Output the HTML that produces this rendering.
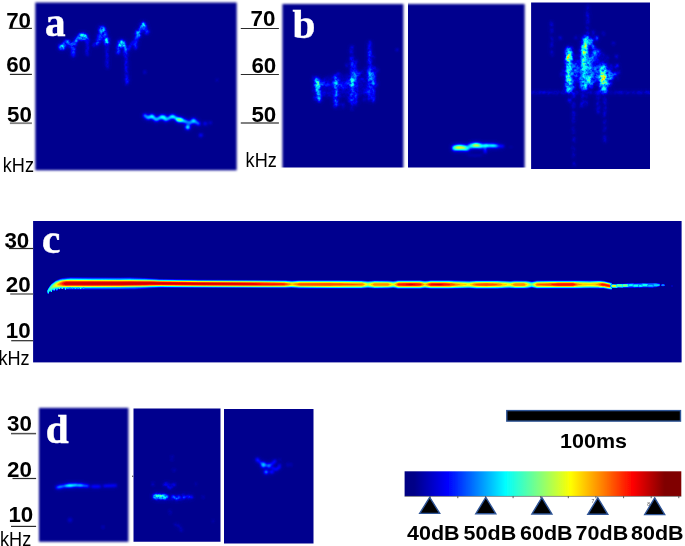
<!DOCTYPE html>
<html><head><meta charset="utf-8"><title>Spectrograms</title>
<style>
html,body{margin:0;padding:0;background:#fff;}
body{width:685px;height:546px;overflow:hidden;position:relative;}
svg{position:absolute;left:0;top:0;display:block;}
.ax{font-family:"Liberation Sans",sans-serif;font-weight:bold;font-size:22px;fill:#000;}
.kh{font-family:"Liberation Sans",sans-serif;font-weight:normal;font-size:19.5px;fill:#000;}
.lab{font-family:"Liberation Serif",serif;font-weight:bold;font-size:40px;fill:#fff;stroke:#fff;stroke-width:0.5px;}
.db{font-family:"Liberation Sans",sans-serif;font-weight:bold;font-size:20.3px;fill:#000;}
.ul{stroke:#2a2a2a;stroke-width:1.2;}
</style></head><body>
<svg width="685" height="546" viewBox="0 0 685 546">
<defs>

<filter id="jetc" x="-5%" y="-5%" width="110%" height="110%" color-interpolation-filters="sRGB">
<feGaussianBlur stdDeviation="0.65"/>
<feComponentTransfer>
<feFuncR type="table" tableValues="0 0 0 0 0.5 1 1 1 0.5"/>
<feFuncG type="table" tableValues="0 0 0.5 1 1 1 0.5 0 0"/>
<feFuncB type="table" tableValues="0.56 1 1 1 0.5 0 0 0 0"/>
</feComponentTransfer>
</filter>
<filter id="jetb" x="-5%" y="-5%" width="110%" height="110%" color-interpolation-filters="sRGB">
<feGaussianBlur in="SourceGraphic" stdDeviation="2.4" result="h"/>
<feGaussianBlur in="SourceGraphic" stdDeviation="0.8" result="c"/>
<feComposite in="c" in2="h" operator="arithmetic" k1="0" k2="0.85" k3="0.5" k4="0" result="cmb"/>
<feTurbulence type="fractalNoise" baseFrequency="0.33" numOctaves="2" seed="7" result="t"/>
<feColorMatrix in="t" type="matrix" values="1.6 0 0 0 -0.3  1.6 0 0 0 -0.3  1.6 0 0 0 -0.3  0 0 0 0 1" result="tg"/>
<feGaussianBlur in="tg" stdDeviation="0.5" result="tgb"/>
<feComposite in="cmb" in2="tgb" operator="arithmetic" k1="0.8" k2="0.42" k3="0" k4="0" result="cmn"/>
<feComponentTransfer in="cmn">
<feFuncR type="table" tableValues="0 0 0 0 0.5 1 1 1 0.5"/>
<feFuncG type="table" tableValues="0 0 0.5 1 1 1 0.5 0 0"/>
<feFuncB type="table" tableValues="0.56 1 1 1 0.5 0 0 0 0"/>
<feFuncA type="linear" slope="0" intercept="1"/>
</feComponentTransfer>
</filter>
<filter id="jets" x="-5%" y="-5%" width="110%" height="110%" color-interpolation-filters="sRGB">
<feGaussianBlur in="SourceGraphic" stdDeviation="2.4" result="h"/>
<feGaussianBlur in="SourceGraphic" stdDeviation="0.9" result="c"/>
<feComposite in="c" in2="h" operator="arithmetic" k1="0" k2="0.9" k3="0.45" k4="0" result="cmb"/>

<feComponentTransfer in="cmb">
<feFuncR type="table" tableValues="0 0 0 0 0.5 1 1 1 0.5"/>
<feFuncG type="table" tableValues="0 0 0.5 1 1 1 0.5 0 0"/>
<feFuncB type="table" tableValues="0.56 1 1 1 0.5 0 0 0 0"/>
<feFuncA type="linear" slope="0" intercept="1"/>
</feComponentTransfer>
</filter>
<filter id="soft" x="-5%" y="-5%" width="110%" height="110%"><feGaussianBlur stdDeviation="0.95"/></filter>
<filter id="softc" x="-5%" y="-5%" width="110%" height="110%"><feGaussianBlur stdDeviation="0.7"/></filter>
<filter id="soft2" x="-5%" y="-5%" width="110%" height="110%"><feGaussianBlur stdDeviation="0.6"/></filter>
<linearGradient id="cb" x1="0" y1="0" x2="1" y2="0">
<stop offset="0" stop-color="#000083"/>
<stop offset="0.035" stop-color="#000088"/>
<stop offset="0.155" stop-color="#0000ff"/>
<stop offset="0.26" stop-color="#0080ff"/>
<stop offset="0.365" stop-color="#00ffff"/>
<stop offset="0.485" stop-color="#80ff80"/>
<stop offset="0.60" stop-color="#ffff00"/>
<stop offset="0.715" stop-color="#ff8000"/>
<stop offset="0.824" stop-color="#ff0000"/>
<stop offset="0.94" stop-color="#800000"/>
<stop offset="1" stop-color="#800000"/>
</linearGradient>
<clipPath id="cp_a"><rect x="27.3" y="-5.5" width="217.4" height="183.8"/></clipPath>
<mask id="mk_a" maskUnits="userSpaceOnUse" x="19.3" y="-13.5" width="233.4" height="199.8"><rect x="35.3" y="2.5" width="201.4" height="167.8" fill="#fff" filter="url(#soft)"/></mask>
<clipPath id="cp_b1"><rect x="274.4" y="-4.0" width="137.0" height="171.5"/></clipPath>
<mask id="mk_b1" maskUnits="userSpaceOnUse" x="266.4" y="-12.0" width="153.0" height="195.5"><rect x="282.4" y="4.0" width="121.0" height="171.5" fill="#fff" filter="url(#soft)"/></mask>
<clipPath id="cp_b2"><rect x="408.0" y="-4.0" width="124.7" height="171.5"/></clipPath>
<mask id="mk_b2" maskUnits="userSpaceOnUse" x="392.0" y="-12.0" width="148.7" height="195.5"><rect x="400.0" y="4.0" width="124.7" height="171.5" fill="#fff" filter="url(#soft)"/></mask>
<clipPath id="cp_b3"><rect x="531.1" y="2.6" width="118.9" height="166.4"/></clipPath>
<clipPath id="cp_c"><rect x="33.1" y="213.0" width="656.5" height="157.4"/></clipPath>
<mask id="mk_c" maskUnits="userSpaceOnUse" x="17.1" y="205.0" width="680.5" height="173.4"><rect x="25.1" y="221.0" width="656.5" height="141.4" fill="#fff" filter="url(#softc)"/></mask>
<clipPath id="cp_d1"><rect x="31.0" y="399.9" width="105.4" height="149.9"/></clipPath>
<mask id="mk_d1" maskUnits="userSpaceOnUse" x="23.0" y="391.9" width="121.4" height="165.9"><rect x="39.0" y="407.9" width="89.4" height="133.9" fill="#fff" filter="url(#soft)"/></mask>
<clipPath id="cp_d2"><rect x="133.5" y="408.4" width="87.0" height="133.4"/></clipPath>
<clipPath id="cp_d3"><rect x="224.0" y="409.1" width="89.5" height="134.4"/></clipPath>
</defs>

<defs><clipPath id="sub_a"><rect x="0" y="0" width="300" height="100"/></clipPath><clipPath id="sub_a2"><rect x="0" y="100" width="300" height="90"/></clipPath></defs>
<g clip-path="url(#cp_a)"><g mask="url(#mk_a)"><g clip-path="url(#sub_a)"><g filter="url(#jetb)">
<rect x="25.299999999999997" y="-7.5" width="221.4" height="187.8" fill="#000"/>
<path d="M62.0 47.0 L66.0 42.0 L70.0 43.0 L73.3 50.0" fill="none" stroke="rgb(56,56,56)" stroke-width="3.2" stroke-linecap="round" stroke-linejoin="round"/>
<path d="M73.3 55.0 L73.3 46.0 L77.0 39.0 L82.0 35.5 L86.0 36.5 L87.3 40.0" fill="none" stroke="rgb(61,61,61)" stroke-width="3.2" stroke-linecap="round" stroke-linejoin="round"/>
<path d="M87.3 40.0 L87.3 55.0" fill="none" stroke="rgb(46,46,46)" stroke-width="1.6" stroke-linecap="round" stroke-linejoin="round"/>
<path d="M73.3 46.0 L73.3 57.0" fill="none" stroke="rgb(41,41,41)" stroke-width="1.6" stroke-linecap="round" stroke-linejoin="round"/>
<ellipse cx="62.0" cy="47.0" rx="2.8" ry="2.4" fill="rgb(102,102,102)"/>
<ellipse cx="82.5" cy="36.5" rx="3.8" ry="3.0" fill="rgb(102,102,102)"/>
<ellipse cx="67.0" cy="41.5" rx="2.0" ry="1.8" fill="rgb(64,64,64)"/>
<path d="M94.5 45.0 L98.0 43.0 L99.0 36.0 L102.0 28.5 L105.0 31.0 L106.5 43.0" fill="none" stroke="rgb(56,56,56)" stroke-width="2.6" stroke-linecap="round" stroke-linejoin="round"/>
<path d="M106.8 40.0 L107.4 68.0" fill="none" stroke="rgb(46,46,46)" stroke-width="1.5" stroke-linecap="round" stroke-linejoin="round"/>
<ellipse cx="102.0" cy="29.0" rx="3.0" ry="2.6" fill="rgb(87,87,87)"/>
<ellipse cx="106.5" cy="41.0" rx="2.4" ry="3.2" fill="rgb(92,92,92)"/>
<ellipse cx="101.0" cy="37.0" rx="2.4" ry="2.4" fill="rgb(51,51,51)"/>
<path d="M118.0 53.0 L119.0 46.0 L121.5 42.5 L125.0 46.0 L126.0 55.0" fill="none" stroke="rgb(61,61,61)" stroke-width="2.8" stroke-linecap="round" stroke-linejoin="round"/>
<path d="M126.0 50.0 L126.7 84.0" fill="none" stroke="rgb(51,51,51)" stroke-width="1.6" stroke-linecap="round" stroke-linejoin="round"/>
<ellipse cx="121.5" cy="43.5" rx="3.2" ry="3.2" fill="rgb(102,102,102)"/>
<ellipse cx="127.0" cy="80.0" rx="1.2" ry="3.0" fill="rgb(64,64,64)"/>
<path d="M128.0 50.0 L133.0 42.0" fill="none" stroke="rgb(46,46,46)" stroke-width="2" stroke-linecap="round" stroke-linejoin="round"/>
<path d="M135.4 48.0 L136.0 40.0 L139.0 32.0 L143.3 24.5 L145.0 28.0 L147.0 33.0" fill="none" stroke="rgb(56,56,56)" stroke-width="2.6" stroke-linecap="round" stroke-linejoin="round"/>
<ellipse cx="143.3" cy="25.0" rx="2.6" ry="2.6" fill="rgb(92,92,92)"/>
<ellipse cx="138.0" cy="34.0" rx="2.4" ry="3.4" fill="rgb(82,82,82)"/>
<ellipse cx="147.0" cy="32.0" rx="2.2" ry="1.8" fill="rgb(51,51,51)"/>
<ellipse cx="145.0" cy="72.0" rx="1.2" ry="1.5" fill="rgb(31,31,31)"/>
<ellipse cx="217.0" cy="80.0" rx="1.2" ry="1.2" fill="rgb(20,20,20)"/>
</g></g></g></g>
<g clip-path="url(#cp_a)"><g mask="url(#mk_a)"><g clip-path="url(#sub_a2)"><g filter="url(#jets)">
<rect x="25.299999999999997" y="-7.5" width="221.4" height="187.8" fill="#000"/>
<path d="M144.6 115.5 L148.0 118.0 L151.9 116.3 L156.3 119.9 L162.1 116.3 L165.8 119.9 L172.3 116.3 L179.6 119.9 L185.5 121.4 L190.0 123.0 L193.5 120.7 L198.6 123.6" fill="none" stroke="rgb(61,61,61)" stroke-width="3.2" stroke-linecap="round" stroke-linejoin="round"/>
<path d="M144.6 115.5 L148.0 118.0 L151.9 116.3 L156.3 119.9 L162.1 116.3 L165.8 119.9 L172.3 116.3 L179.6 119.9 L185.5 121.4" fill="none" stroke="rgb(87,87,87)" stroke-width="1.6" stroke-linecap="round" stroke-linejoin="round"/>
<ellipse cx="146.0" cy="116.3" rx="1.8" ry="1.8" fill="rgb(66,66,66)"/>
<ellipse cx="152.0" cy="116.3" rx="2.4" ry="1.8" fill="rgb(97,97,97)"/>
<ellipse cx="163.0" cy="117.0" rx="3.0" ry="1.8" fill="rgb(97,97,97)"/>
<ellipse cx="172.5" cy="116.5" rx="2.6" ry="1.8" fill="rgb(97,97,97)"/>
<ellipse cx="179.5" cy="119.8" rx="3.4" ry="2.0" fill="rgb(122,122,122)"/>
<ellipse cx="187.7" cy="127.2" rx="2.2" ry="2.2" fill="rgb(92,92,92)"/>
<ellipse cx="193.5" cy="120.7" rx="2.2" ry="2.2" fill="rgb(84,84,84)"/>
<ellipse cx="205.2" cy="123.6" rx="2.0" ry="1.6" fill="rgb(31,31,31)"/>
<ellipse cx="200.8" cy="135.3" rx="1.8" ry="1.8" fill="rgb(36,36,36)"/>
<ellipse cx="210.3" cy="122.8" rx="1.6" ry="1.4" fill="rgb(23,23,23)"/>
</g></g></g></g>
<g clip-path="url(#cp_b1)"><g mask="url(#mk_b1)"><g><g filter="url(#jetb)">
<rect x="272.4" y="-6.0" width="141.0" height="183.5" fill="#000"/>
<ellipse cx="345.0" cy="86.0" rx="30.0" ry="12.0" fill="rgb(9,9,9)"/>
<ellipse cx="355.1" cy="66.9" rx="0.9" ry="2.3" fill="rgb(49,49,49)"/>
<ellipse cx="356.3" cy="61.8" rx="0.9" ry="1.3" fill="rgb(55,55,55)"/>
<ellipse cx="373.4" cy="56.8" rx="0.9" ry="1.9" fill="rgb(38,38,38)"/>
<ellipse cx="355.5" cy="63.6" rx="0.9" ry="2.1" fill="rgb(35,35,35)"/>
<ellipse cx="351.6" cy="51.9" rx="0.9" ry="2.2" fill="rgb(35,35,35)"/>
<ellipse cx="369.4" cy="60.7" rx="0.9" ry="1.4" fill="rgb(33,33,33)"/>
<ellipse cx="374.5" cy="71.8" rx="0.9" ry="1.4" fill="rgb(42,42,42)"/>
<ellipse cx="352.1" cy="47.1" rx="0.9" ry="1.6" fill="rgb(55,55,55)"/>
<ellipse cx="351.3" cy="50.5" rx="0.9" ry="2.3" fill="rgb(49,49,49)"/>
<ellipse cx="369.2" cy="69.8" rx="0.9" ry="1.7" fill="rgb(46,46,46)"/>
<ellipse cx="346.0" cy="87.1" rx="1.1" ry="2.8" fill="rgb(44,44,44)"/>
<ellipse cx="338.8" cy="73.3" rx="1.3" ry="1.4" fill="rgb(35,35,35)"/>
<ellipse cx="367.8" cy="88.8" rx="1.1" ry="2.0" fill="rgb(28,28,28)"/>
<ellipse cx="339.9" cy="86.4" rx="1.0" ry="1.6" fill="rgb(42,42,42)"/>
<ellipse cx="356.2" cy="72.0" rx="1.0" ry="2.1" fill="rgb(32,32,32)"/>
<ellipse cx="317.9" cy="92.0" rx="1.0" ry="2.3" fill="rgb(21,21,21)"/>
<ellipse cx="334.3" cy="84.8" rx="1.3" ry="1.4" fill="rgb(23,23,23)"/>
<ellipse cx="348.2" cy="83.0" rx="1.2" ry="3.0" fill="rgb(31,31,31)"/>
<ellipse cx="362.2" cy="79.3" rx="1.3" ry="1.8" fill="rgb(42,42,42)"/>
<ellipse cx="346.7" cy="65.1" rx="0.8" ry="2.3" fill="rgb(36,36,36)"/>
<ellipse cx="339.1" cy="79.3" rx="0.9" ry="2.8" fill="rgb(29,29,29)"/>
<ellipse cx="324.7" cy="84.4" rx="1.1" ry="1.8" fill="rgb(22,22,22)"/>
<ellipse cx="313.5" cy="90.1" rx="1.0" ry="1.3" fill="rgb(44,44,44)"/>
<ellipse cx="349.9" cy="99.6" rx="1.2" ry="2.6" fill="rgb(45,45,45)"/>
<ellipse cx="324.1" cy="94.0" rx="0.8" ry="1.9" fill="rgb(42,42,42)"/>
<ellipse cx="356.9" cy="93.8" rx="0.9" ry="2.1" fill="rgb(27,27,27)"/>
<ellipse cx="314.7" cy="81.0" rx="1.0" ry="1.5" fill="rgb(47,47,47)"/>
<ellipse cx="340.2" cy="104.9" rx="0.8" ry="1.4" fill="rgb(23,23,23)"/>
<ellipse cx="356.1" cy="86.9" rx="1.2" ry="2.3" fill="rgb(28,28,28)"/>
<ellipse cx="364.5" cy="99.7" rx="1.3" ry="1.2" fill="rgb(39,39,39)"/>
<ellipse cx="369.9" cy="68.2" rx="0.9" ry="2.2" fill="rgb(29,29,29)"/>
<ellipse cx="369.2" cy="91.2" rx="1.1" ry="2.0" fill="rgb(38,38,38)"/>
<ellipse cx="348.2" cy="84.5" rx="1.1" ry="1.3" fill="rgb(27,27,27)"/>
<ellipse cx="373.2" cy="100.8" rx="1.0" ry="1.7" fill="rgb(50,50,50)"/>
<ellipse cx="341.1" cy="87.8" rx="0.8" ry="1.3" fill="rgb(31,31,31)"/>
<ellipse cx="364.9" cy="69.0" rx="0.7" ry="1.7" fill="rgb(29,29,29)"/>
<ellipse cx="371.7" cy="76.0" rx="0.8" ry="1.3" fill="rgb(45,45,45)"/>
<ellipse cx="377.4" cy="70.3" rx="1.0" ry="1.9" fill="rgb(28,28,28)"/>
<ellipse cx="373.2" cy="71.6" rx="1.3" ry="1.9" fill="rgb(51,51,51)"/>
<ellipse cx="317.4" cy="92.1" rx="0.9" ry="2.4" fill="rgb(41,41,41)"/>
<ellipse cx="336.2" cy="82.0" rx="1.1" ry="1.8" fill="rgb(24,24,24)"/>
<ellipse cx="350.3" cy="81.9" rx="0.8" ry="1.8" fill="rgb(49,49,49)"/>
<ellipse cx="349.9" cy="93.9" rx="1.1" ry="1.6" fill="rgb(39,39,39)"/>
<ellipse cx="314.8" cy="97.9" rx="1.3" ry="2.1" fill="rgb(35,35,35)"/>
<ellipse cx="343.2" cy="105.4" rx="0.9" ry="3.0" fill="rgb(32,32,32)"/>
<ellipse cx="368.4" cy="92.2" rx="1.2" ry="1.9" fill="rgb(32,32,32)"/>
<ellipse cx="351.9" cy="108.9" rx="1.1" ry="1.4" fill="rgb(35,35,35)"/>
<ellipse cx="365.3" cy="92.1" rx="1.2" ry="2.6" fill="rgb(44,44,44)"/>
<ellipse cx="325.5" cy="81.7" rx="0.7" ry="2.8" fill="rgb(28,28,28)"/>
<ellipse cx="321.4" cy="94.9" rx="1.0" ry="1.8" fill="rgb(35,35,35)"/>
<ellipse cx="376.8" cy="84.4" rx="0.9" ry="1.5" fill="rgb(45,45,45)"/>
<ellipse cx="371.6" cy="84.2" rx="0.9" ry="2.1" fill="rgb(24,24,24)"/>
<ellipse cx="328.6" cy="94.7" rx="0.7" ry="3.0" fill="rgb(43,43,43)"/>
<ellipse cx="313.2" cy="77.8" rx="0.7" ry="2.6" fill="rgb(28,28,28)"/>
<ellipse cx="367.1" cy="74.1" rx="1.0" ry="2.1" fill="rgb(28,28,28)"/>
<ellipse cx="324.1" cy="81.3" rx="1.0" ry="1.6" fill="rgb(45,45,45)"/>
<path d="M317.0 79.0 L318.0 90.0 L319.3 100.0" fill="none" stroke="rgb(66,66,66)" stroke-width="4.0" stroke-linecap="round" stroke-linejoin="round"/>
<ellipse cx="317.5" cy="84.0" rx="2.4" ry="3.0" fill="rgb(133,133,133)"/>
<ellipse cx="318.0" cy="91.0" rx="2.0" ry="3.0" fill="rgb(92,92,92)"/>
<path d="M320.0 84.0 L327.0 84.5" fill="none" stroke="rgb(51,51,51)" stroke-width="2.0" stroke-linecap="round" stroke-linejoin="round"/>
<path d="M335.8 76.0 L335.8 106.0" fill="none" stroke="rgb(56,56,56)" stroke-width="3.2" stroke-linecap="round" stroke-linejoin="round"/>
<ellipse cx="335.5" cy="83.0" rx="2.0" ry="4.5" fill="rgb(87,87,87)"/>
<ellipse cx="336.0" cy="94.0" rx="1.6" ry="3.0" fill="rgb(71,71,71)"/>
<path d="M340.0 84.0 L343.0 88.0" fill="none" stroke="rgb(46,46,46)" stroke-width="2.0" stroke-linecap="round" stroke-linejoin="round"/>
<path d="M352.0 57.0 L352.3 104.0" fill="none" stroke="rgb(51,51,51)" stroke-width="2.6" stroke-linecap="round" stroke-linejoin="round"/>
<path d="M356.0 70.0 L356.0 104.0" fill="none" stroke="rgb(46,46,46)" stroke-width="2.0" stroke-linecap="round" stroke-linejoin="round"/>
<ellipse cx="352.0" cy="82.0" rx="2.4" ry="5.0" fill="rgb(92,92,92)"/>
<ellipse cx="355.0" cy="74.0" rx="2.0" ry="3.0" fill="rgb(66,66,66)"/>
<path d="M369.7 42.0 L369.7 100.0" fill="none" stroke="rgb(51,51,51)" stroke-width="2.2" stroke-linecap="round" stroke-linejoin="round"/>
<path d="M373.5 67.0 L373.5 100.0" fill="none" stroke="rgb(51,51,51)" stroke-width="2.2" stroke-linecap="round" stroke-linejoin="round"/>
<ellipse cx="369.7" cy="75.0" rx="1.8" ry="6.0" fill="rgb(76,76,76)"/>
<ellipse cx="373.5" cy="80.0" rx="1.6" ry="6.0" fill="rgb(71,71,71)"/>
<ellipse cx="369.7" cy="53.0" rx="1.4" ry="2.0" fill="rgb(66,66,66)"/>
<ellipse cx="369.7" cy="60.0" rx="1.4" ry="2.0" fill="rgb(61,61,61)"/>
<ellipse cx="397.0" cy="50.0" rx="1.2" ry="1.6" fill="rgb(26,26,26)"/>
<path d="M320.0 84.0 L330.0 84.5" fill="none" stroke="rgb(56,56,56)" stroke-width="2.2" stroke-linecap="round" stroke-linejoin="round"/>
<path d="M338.0 84.0 L350.0 83.0" fill="none" stroke="rgb(46,46,46)" stroke-width="1.8" stroke-linecap="round" stroke-linejoin="round"/>
<path d="M356.0 76.0 L362.0 72.0" fill="none" stroke="rgb(51,51,51)" stroke-width="1.8" stroke-linecap="round" stroke-linejoin="round"/>
</g></g></g></g>
<g clip-path="url(#cp_b2)"><g mask="url(#mk_b2)"><g><g filter="url(#jets)">
<rect x="398.0" y="-6.0" width="136.7" height="183.5" fill="#000"/>
<path d="M454.5 148.0 L461.0 147.6 L467.0 148.2" fill="none" stroke="rgb(92,92,92)" stroke-width="5.0" stroke-linecap="round" stroke-linejoin="round"/>
<path d="M470.5 146.0 L476.0 145.2 L481.0 146.0" fill="none" stroke="rgb(92,92,92)" stroke-width="4.6" stroke-linecap="round" stroke-linejoin="round"/>
<path d="M467.0 148.0 L471.0 146.4" fill="none" stroke="rgb(76,76,76)" stroke-width="3.0" stroke-linecap="round" stroke-linejoin="round"/>
<path d="M481.0 146.0 L490.0 145.6 L498.0 146.0" fill="none" stroke="rgb(87,87,87)" stroke-width="3.0" stroke-linecap="round" stroke-linejoin="round"/>
<path d="M498.0 146.0 L503.0 146.2" fill="none" stroke="rgb(41,41,41)" stroke-width="2.4" stroke-linecap="round" stroke-linejoin="round"/>
<ellipse cx="459.0" cy="147.4" rx="4.2" ry="1.8" fill="rgb(133,133,133)"/>
<ellipse cx="463.5" cy="148.2" rx="2.4" ry="1.4" fill="rgb(128,128,128)"/>
<ellipse cx="476.2" cy="145.2" rx="3.6" ry="1.6" fill="rgb(133,133,133)"/>
<ellipse cx="486.0" cy="145.4" rx="2.4" ry="1.3" fill="rgb(107,107,107)"/>
<ellipse cx="493.0" cy="145.8" rx="2.4" ry="1.2" fill="rgb(102,102,102)"/>
<path d="M485.0 147.5 L485.4 152.5" fill="none" stroke="rgb(61,61,61)" stroke-width="1.6" stroke-linecap="round" stroke-linejoin="round"/>
<path d="M468.0 155.0 L475.0 155.6 L482.0 155.0" fill="none" stroke="rgb(20,20,20)" stroke-width="1.0" stroke-linecap="round" stroke-linejoin="round"/>
<ellipse cx="511.0" cy="147.0" rx="1.0" ry="1.0" fill="rgb(15,15,15)"/>
</g></g></g></g>
<g clip-path="url(#cp_b3)"><g><g><g filter="url(#jetb)">
<rect x="521.1" y="-7.4" width="138.9" height="186.4" fill="#000"/>
<ellipse cx="588.0" cy="68.0" rx="22.0" ry="18.0" fill="rgb(6,6,6)"/>
<ellipse cx="596.1" cy="52.5" rx="1.3" ry="2.0" fill="rgb(31,31,31)"/>
<ellipse cx="599.8" cy="93.0" rx="0.7" ry="1.2" fill="rgb(23,23,23)"/>
<ellipse cx="573.6" cy="73.3" rx="1.2" ry="1.9" fill="rgb(27,27,27)"/>
<ellipse cx="579.4" cy="69.3" rx="0.8" ry="1.8" fill="rgb(28,28,28)"/>
<ellipse cx="603.5" cy="61.9" rx="0.8" ry="1.2" fill="rgb(32,32,32)"/>
<ellipse cx="587.9" cy="69.9" rx="1.0" ry="2.3" fill="rgb(25,25,25)"/>
<ellipse cx="585.7" cy="58.1" rx="0.8" ry="1.6" fill="rgb(40,40,40)"/>
<ellipse cx="578.5" cy="60.6" rx="1.2" ry="1.2" fill="rgb(41,41,41)"/>
<ellipse cx="590.0" cy="82.4" rx="0.8" ry="2.2" fill="rgb(22,22,22)"/>
<ellipse cx="572.7" cy="87.8" rx="1.0" ry="2.6" fill="rgb(38,38,38)"/>
<ellipse cx="580.4" cy="51.4" rx="1.1" ry="1.4" fill="rgb(37,37,37)"/>
<ellipse cx="585.9" cy="96.1" rx="1.2" ry="1.4" fill="rgb(37,37,37)"/>
<ellipse cx="594.5" cy="80.7" rx="1.3" ry="1.9" fill="rgb(46,46,46)"/>
<ellipse cx="575.8" cy="37.8" rx="0.9" ry="1.6" fill="rgb(37,37,37)"/>
<ellipse cx="619.2" cy="72.1" rx="1.1" ry="1.5" fill="rgb(28,28,28)"/>
<ellipse cx="589.7" cy="58.4" rx="1.0" ry="2.0" fill="rgb(40,40,40)"/>
<ellipse cx="587.6" cy="69.9" rx="0.8" ry="1.2" fill="rgb(34,34,34)"/>
<ellipse cx="608.3" cy="74.4" rx="1.3" ry="2.1" fill="rgb(31,31,31)"/>
<ellipse cx="565.3" cy="89.2" rx="1.1" ry="1.7" fill="rgb(40,40,40)"/>
<ellipse cx="563.0" cy="71.0" rx="1.1" ry="1.1" fill="rgb(31,31,31)"/>
<ellipse cx="590.9" cy="71.4" rx="1.4" ry="2.3" fill="rgb(24,24,24)"/>
<ellipse cx="578.2" cy="67.1" rx="0.8" ry="1.4" fill="rgb(30,30,30)"/>
<ellipse cx="613.5" cy="43.4" rx="1.0" ry="1.1" fill="rgb(49,49,49)"/>
<ellipse cx="576.7" cy="74.7" rx="1.3" ry="1.5" fill="rgb(37,37,37)"/>
<ellipse cx="600.1" cy="77.2" rx="0.9" ry="1.3" fill="rgb(35,35,35)"/>
<ellipse cx="617.9" cy="79.3" rx="0.9" ry="1.0" fill="rgb(30,30,30)"/>
<ellipse cx="594.4" cy="48.7" rx="0.9" ry="1.5" fill="rgb(28,28,28)"/>
<ellipse cx="569.6" cy="100.3" rx="1.4" ry="2.2" fill="rgb(48,48,48)"/>
<ellipse cx="616.4" cy="56.4" rx="1.0" ry="2.0" fill="rgb(43,43,43)"/>
<ellipse cx="590.9" cy="62.3" rx="0.7" ry="1.3" fill="rgb(36,36,36)"/>
<ellipse cx="588.3" cy="65.1" rx="1.4" ry="2.1" fill="rgb(45,45,45)"/>
<ellipse cx="598.2" cy="82.7" rx="1.3" ry="2.0" fill="rgb(37,37,37)"/>
<ellipse cx="601.0" cy="72.3" rx="0.9" ry="1.8" fill="rgb(50,50,50)"/>
<ellipse cx="589.0" cy="54.2" rx="1.2" ry="1.3" fill="rgb(25,25,25)"/>
<ellipse cx="603.5" cy="33.6" rx="0.8" ry="1.6" fill="rgb(47,47,47)"/>
<ellipse cx="586.6" cy="76.1" rx="1.3" ry="1.8" fill="rgb(42,42,42)"/>
<ellipse cx="575.4" cy="63.8" rx="1.3" ry="1.8" fill="rgb(26,26,26)"/>
<ellipse cx="573.4" cy="81.7" rx="0.8" ry="2.3" fill="rgb(48,48,48)"/>
<ellipse cx="596.2" cy="77.9" rx="1.3" ry="2.3" fill="rgb(21,21,21)"/>
<ellipse cx="560.5" cy="37.9" rx="1.3" ry="1.4" fill="rgb(37,37,37)"/>
<ellipse cx="603.6" cy="72.2" rx="0.7" ry="2.2" fill="rgb(21,21,21)"/>
<ellipse cx="603.5" cy="55.1" rx="0.7" ry="1.8" fill="rgb(39,39,39)"/>
<ellipse cx="589.3" cy="78.9" rx="0.7" ry="2.1" fill="rgb(25,25,25)"/>
<ellipse cx="570.8" cy="83.7" rx="1.2" ry="1.7" fill="rgb(28,28,28)"/>
<ellipse cx="568.4" cy="86.9" rx="0.7" ry="1.3" fill="rgb(35,35,35)"/>
<ellipse cx="575.3" cy="86.9" rx="1.3" ry="2.3" fill="rgb(22,22,22)"/>
<ellipse cx="592.8" cy="78.2" rx="0.8" ry="1.8" fill="rgb(27,27,27)"/>
<ellipse cx="583.8" cy="73.6" rx="0.9" ry="1.4" fill="rgb(47,47,47)"/>
<ellipse cx="582.7" cy="54.0" rx="0.9" ry="1.1" fill="rgb(50,50,50)"/>
<ellipse cx="604.4" cy="69.9" rx="1.1" ry="1.5" fill="rgb(26,26,26)"/>
<ellipse cx="573.1" cy="87.5" rx="1.3" ry="2.0" fill="rgb(49,49,49)"/>
<ellipse cx="611.1" cy="66.7" rx="1.0" ry="2.2" fill="rgb(40,40,40)"/>
<ellipse cx="561.7" cy="74.6" rx="1.0" ry="1.8" fill="rgb(38,38,38)"/>
<ellipse cx="586.4" cy="63.7" rx="1.0" ry="2.3" fill="rgb(49,49,49)"/>
<ellipse cx="604.9" cy="72.0" rx="1.3" ry="2.0" fill="rgb(27,27,27)"/>
<ellipse cx="575.6" cy="64.3" rx="0.9" ry="1.6" fill="rgb(26,26,26)"/>
<ellipse cx="573.9" cy="66.9" rx="0.8" ry="2.4" fill="rgb(26,26,26)"/>
<ellipse cx="578.8" cy="79.7" rx="1.0" ry="2.5" fill="rgb(50,50,50)"/>
<ellipse cx="568.9" cy="76.5" rx="1.1" ry="1.1" fill="rgb(51,51,51)"/>
<ellipse cx="575.0" cy="81.2" rx="0.9" ry="2.0" fill="rgb(37,37,37)"/>
<ellipse cx="573.7" cy="66.4" rx="1.2" ry="2.5" fill="rgb(30,30,30)"/>
<ellipse cx="604.4" cy="73.2" rx="0.7" ry="2.5" fill="rgb(36,36,36)"/>
<ellipse cx="583.5" cy="61.7" rx="1.3" ry="2.1" fill="rgb(26,26,26)"/>
<ellipse cx="586.1" cy="103.0" rx="0.9" ry="2.2" fill="rgb(50,50,50)"/>
<ellipse cx="593.4" cy="32.7" rx="1.1" ry="2.1" fill="rgb(39,39,39)"/>
<ellipse cx="584.6" cy="76.4" rx="1.3" ry="1.9" fill="rgb(49,49,49)"/>
<ellipse cx="607.5" cy="57.9" rx="0.7" ry="2.4" fill="rgb(38,38,38)"/>
<ellipse cx="599.9" cy="64.9" rx="1.1" ry="2.5" fill="rgb(41,41,41)"/>
<ellipse cx="602.8" cy="82.0" rx="0.9" ry="2.4" fill="rgb(27,27,27)"/>
<ellipse cx="595.4" cy="66.0" rx="0.7" ry="2.6" fill="rgb(26,26,26)"/>
<path d="M532.0 92.5 L535.0 92.5" fill="none" stroke="rgb(39,39,39)" stroke-width="1.6" stroke-linecap="round" stroke-linejoin="round"/>
<path d="M537.4 92.5 L541.8 92.5" fill="none" stroke="rgb(41,41,41)" stroke-width="1.6" stroke-linecap="round" stroke-linejoin="round"/>
<path d="M543.5 92.5 L545.5 92.5" fill="none" stroke="rgb(47,47,47)" stroke-width="1.6" stroke-linecap="round" stroke-linejoin="round"/>
<path d="M547.7 92.5 L550.6 92.5" fill="none" stroke="rgb(51,51,51)" stroke-width="1.6" stroke-linecap="round" stroke-linejoin="round"/>
<path d="M553.3 92.5 L558.6 92.5" fill="none" stroke="rgb(38,38,38)" stroke-width="1.6" stroke-linecap="round" stroke-linejoin="round"/>
<path d="M561.7 92.5 L564.3 92.5" fill="none" stroke="rgb(42,42,42)" stroke-width="1.6" stroke-linecap="round" stroke-linejoin="round"/>
<path d="M568.0 92.5 L572.1 92.5" fill="none" stroke="rgb(44,44,44)" stroke-width="1.6" stroke-linecap="round" stroke-linejoin="round"/>
<path d="M575.3 92.5 L577.5 92.5" fill="none" stroke="rgb(45,45,45)" stroke-width="1.6" stroke-linecap="round" stroke-linejoin="round"/>
<path d="M580.5 92.5 L583.7 92.5" fill="none" stroke="rgb(26,26,26)" stroke-width="1.6" stroke-linecap="round" stroke-linejoin="round"/>
<path d="M587.4 92.5 L591.3 92.5" fill="none" stroke="rgb(44,44,44)" stroke-width="1.6" stroke-linecap="round" stroke-linejoin="round"/>
<path d="M594.9 92.5 L599.8 92.5" fill="none" stroke="rgb(49,49,49)" stroke-width="1.6" stroke-linecap="round" stroke-linejoin="round"/>
<path d="M602.3 92.5 L607.5 92.5" fill="none" stroke="rgb(37,37,37)" stroke-width="1.6" stroke-linecap="round" stroke-linejoin="round"/>
<path d="M611.3 92.5 L616.9 92.5" fill="none" stroke="rgb(28,28,28)" stroke-width="1.6" stroke-linecap="round" stroke-linejoin="round"/>
<path d="M618.7 92.5 L621.6 92.5" fill="none" stroke="rgb(50,50,50)" stroke-width="1.6" stroke-linecap="round" stroke-linejoin="round"/>
<path d="M624.1 92.5 L628.7 92.5" fill="none" stroke="rgb(33,33,33)" stroke-width="1.6" stroke-linecap="round" stroke-linejoin="round"/>
<path d="M631.4 92.5 L635.0 92.5" fill="none" stroke="rgb(34,34,34)" stroke-width="1.6" stroke-linecap="round" stroke-linejoin="round"/>
<path d="M637.9 92.5 L642.3 92.5" fill="none" stroke="rgb(49,49,49)" stroke-width="1.6" stroke-linecap="round" stroke-linejoin="round"/>
<path d="M645.5 92.5 L651.2 92.5" fill="none" stroke="rgb(47,47,47)" stroke-width="1.6" stroke-linecap="round" stroke-linejoin="round"/>
<path d="M573.3 93.0 L574.0 97.7" fill="none" stroke="rgb(50,50,50)" stroke-width="1.5" stroke-linecap="round" stroke-linejoin="round"/>
<path d="M573.8 103.3 L573.3 107.6" fill="none" stroke="rgb(47,47,47)" stroke-width="1.5" stroke-linecap="round" stroke-linejoin="round"/>
<path d="M573.2 111.9 L574.0 115.0" fill="none" stroke="rgb(51,51,51)" stroke-width="1.5" stroke-linecap="round" stroke-linejoin="round"/>
<path d="M573.5 117.4 L573.3 122.6" fill="none" stroke="rgb(33,33,33)" stroke-width="1.5" stroke-linecap="round" stroke-linejoin="round"/>
<path d="M573.1 127.6 L573.7 133.1" fill="none" stroke="rgb(27,27,27)" stroke-width="1.5" stroke-linecap="round" stroke-linejoin="round"/>
<path d="M574.0 138.0 L574.1 141.3" fill="none" stroke="rgb(38,38,38)" stroke-width="1.5" stroke-linecap="round" stroke-linejoin="round"/>
<path d="M573.2 147.3 L573.7 150.6" fill="none" stroke="rgb(26,26,26)" stroke-width="1.5" stroke-linecap="round" stroke-linejoin="round"/>
<path d="M573.7 153.4 L573.3 157.0" fill="none" stroke="rgb(27,27,27)" stroke-width="1.5" stroke-linecap="round" stroke-linejoin="round"/>
<path d="M574.1 162.5 L574.0 165.7" fill="none" stroke="rgb(35,35,35)" stroke-width="1.5" stroke-linecap="round" stroke-linejoin="round"/>
<path d="M604.9 90.0 L604.9 94.1" fill="none" stroke="rgb(40,40,40)" stroke-width="1.5" stroke-linecap="round" stroke-linejoin="round"/>
<path d="M604.8 98.6 L604.7 104.3" fill="none" stroke="rgb(44,44,44)" stroke-width="1.5" stroke-linecap="round" stroke-linejoin="round"/>
<path d="M605.3 107.3 L604.8 110.5" fill="none" stroke="rgb(39,39,39)" stroke-width="1.5" stroke-linecap="round" stroke-linejoin="round"/>
<path d="M604.9 112.5 L604.3 116.2" fill="none" stroke="rgb(41,41,41)" stroke-width="1.5" stroke-linecap="round" stroke-linejoin="round"/>
<path d="M604.9 120.7 L604.8 123.0" fill="none" stroke="rgb(43,43,43)" stroke-width="1.5" stroke-linecap="round" stroke-linejoin="round"/>
<path d="M605.0 126.4 L604.3 131.2" fill="none" stroke="rgb(27,27,27)" stroke-width="1.5" stroke-linecap="round" stroke-linejoin="round"/>
<path d="M604.6 135.9 L604.8 141.7" fill="none" stroke="rgb(41,41,41)" stroke-width="1.5" stroke-linecap="round" stroke-linejoin="round"/>
<path d="M551.6 22.0 L551.7 25.5" fill="none" stroke="rgb(41,41,41)" stroke-width="1.5" stroke-linecap="round" stroke-linejoin="round"/>
<path d="M552.1 28.7 L551.3 32.2" fill="none" stroke="rgb(40,40,40)" stroke-width="1.5" stroke-linecap="round" stroke-linejoin="round"/>
<path d="M551.5 37.1 L552.1 40.3" fill="none" stroke="rgb(32,32,32)" stroke-width="1.5" stroke-linecap="round" stroke-linejoin="round"/>
<path d="M552.0 43.1 L551.4 46.8" fill="none" stroke="rgb(34,34,34)" stroke-width="1.5" stroke-linecap="round" stroke-linejoin="round"/>
<path d="M551.7 50.2 L552.2 55.5" fill="none" stroke="rgb(30,30,30)" stroke-width="1.5" stroke-linecap="round" stroke-linejoin="round"/>
<path d="M588.0 6.0 L587.6 10.6" fill="none" stroke="rgb(31,31,31)" stroke-width="1.5" stroke-linecap="round" stroke-linejoin="round"/>
<path d="M587.3 13.1 L587.9 17.2" fill="none" stroke="rgb(47,47,47)" stroke-width="1.5" stroke-linecap="round" stroke-linejoin="round"/>
<path d="M587.9 19.9 L587.7 23.1" fill="none" stroke="rgb(46,46,46)" stroke-width="1.5" stroke-linecap="round" stroke-linejoin="round"/>
<path d="M587.4 26.4 L587.9 29.0" fill="none" stroke="rgb(32,32,32)" stroke-width="1.5" stroke-linecap="round" stroke-linejoin="round"/>
<path d="M587.5 32.3 L587.5 36.0" fill="none" stroke="rgb(49,49,49)" stroke-width="1.5" stroke-linecap="round" stroke-linejoin="round"/>
<path d="M582.4 95.0 L582.4 97.0" fill="none" stroke="rgb(51,51,51)" stroke-width="1.5" stroke-linecap="round" stroke-linejoin="round"/>
<path d="M582.4 100.8 L581.7 106.6" fill="none" stroke="rgb(45,45,45)" stroke-width="1.5" stroke-linecap="round" stroke-linejoin="round"/>
<path d="M598.0 95.0 L597.8 99.7" fill="none" stroke="rgb(34,34,34)" stroke-width="1.5" stroke-linecap="round" stroke-linejoin="round"/>
<path d="M598.1 102.6 L597.8 104.8" fill="none" stroke="rgb(46,46,46)" stroke-width="1.5" stroke-linecap="round" stroke-linejoin="round"/>
<path d="M598.2 107.0 L598.4 112.6" fill="none" stroke="rgb(48,48,48)" stroke-width="1.5" stroke-linecap="round" stroke-linejoin="round"/>
<path d="M569.0 50.0 L569.0 90.0" fill="none" stroke="rgb(71,71,71)" stroke-width="6.5" stroke-linecap="round" stroke-linejoin="round"/>
<path d="M568.5 52.0 L569.0 84.0" fill="none" stroke="rgb(92,92,92)" stroke-width="3.0" stroke-linecap="round" stroke-linejoin="round"/>
<ellipse cx="569.0" cy="57.5" rx="2.6" ry="4.0" fill="rgb(138,138,138)"/>
<ellipse cx="567.5" cy="78.0" rx="1.6" ry="6.0" fill="rgb(102,102,102)"/>
<path d="M586.0 39.0 L584.5 50.0 L584.0 87.0" fill="none" stroke="rgb(71,71,71)" stroke-width="7" stroke-linecap="round" stroke-linejoin="round"/>
<path d="M586.0 40.0 L584.5 50.0 L583.5 70.0" fill="none" stroke="rgb(107,107,107)" stroke-width="3.4" stroke-linecap="round" stroke-linejoin="round"/>
<ellipse cx="584.5" cy="50.0" rx="2.4" ry="5.0" fill="rgb(120,120,120)"/>
<path d="M590.0 42.0 L595.0 50.0 L592.0 60.0" fill="none" stroke="rgb(66,66,66)" stroke-width="3" stroke-linecap="round" stroke-linejoin="round"/>
<path d="M590.0 60.0 L591.0 86.0" fill="none" stroke="rgb(66,66,66)" stroke-width="4" stroke-linecap="round" stroke-linejoin="round"/>
<ellipse cx="588.0" cy="80.0" rx="2.0" ry="3.0" fill="rgb(97,97,97)"/>
<path d="M603.0 67.0 L603.5 90.0" fill="none" stroke="rgb(76,76,76)" stroke-width="7" stroke-linecap="round" stroke-linejoin="round"/>
<ellipse cx="603.3" cy="78.0" rx="3.0" ry="6.0" fill="rgb(133,133,133)"/>
<ellipse cx="610.0" cy="76.0" rx="3.6" ry="4.0" fill="rgb(76,76,76)"/>
<ellipse cx="615.0" cy="74.0" rx="2.4" ry="2.0" fill="rgb(51,51,51)"/>
<ellipse cx="609.0" cy="84.0" rx="2.4" ry="2.0" fill="rgb(76,76,76)"/>
<ellipse cx="576.0" cy="70.0" rx="3.0" ry="8.0" fill="rgb(46,46,46)"/>
<ellipse cx="596.0" cy="72.0" rx="3.0" ry="8.0" fill="rgb(46,46,46)"/>
<ellipse cx="592.0" cy="58.5" rx="1.2" ry="2.2" fill="rgb(63,63,63)"/>
<ellipse cx="586.6" cy="47.6" rx="1.4" ry="1.4" fill="rgb(79,79,79)"/>
<ellipse cx="599.0" cy="52.3" rx="1.7" ry="2.0" fill="rgb(67,67,67)"/>
<ellipse cx="588.2" cy="64.7" rx="1.7" ry="1.7" fill="rgb(63,63,63)"/>
<ellipse cx="587.0" cy="55.3" rx="1.7" ry="1.7" fill="rgb(60,60,60)"/>
<ellipse cx="594.6" cy="60.2" rx="1.1" ry="1.5" fill="rgb(71,71,71)"/>
<ellipse cx="586.6" cy="60.9" rx="1.3" ry="2.2" fill="rgb(65,65,65)"/>
<ellipse cx="588.3" cy="38.5" rx="1.1" ry="1.5" fill="rgb(74,74,74)"/>
<ellipse cx="597.1" cy="55.7" rx="1.2" ry="2.0" fill="rgb(73,73,73)"/>
<ellipse cx="591.1" cy="40.3" rx="1.4" ry="1.5" fill="rgb(57,57,57)"/>
<ellipse cx="591.5" cy="40.1" rx="1.7" ry="1.5" fill="rgb(78,78,78)"/>
<ellipse cx="596.3" cy="38.3" rx="1.7" ry="2.2" fill="rgb(67,67,67)"/>
<ellipse cx="598.4" cy="51.4" rx="1.0" ry="1.4" fill="rgb(61,61,61)"/>
<ellipse cx="598.0" cy="61.2" rx="1.1" ry="1.6" fill="rgb(54,54,54)"/>
<ellipse cx="609.2" cy="73.0" rx="1.3" ry="1.1" fill="rgb(61,61,61)"/>
<ellipse cx="609.4" cy="83.8" rx="1.4" ry="1.4" fill="rgb(64,64,64)"/>
<ellipse cx="610.8" cy="71.1" rx="1.1" ry="1.3" fill="rgb(48,48,48)"/>
<ellipse cx="616.3" cy="73.1" rx="1.6" ry="1.3" fill="rgb(43,43,43)"/>
<ellipse cx="610.3" cy="73.9" rx="1.7" ry="1.2" fill="rgb(47,47,47)"/>
<ellipse cx="608.2" cy="71.1" rx="1.8" ry="1.9" fill="rgb(48,48,48)"/>
<ellipse cx="606.7" cy="75.7" rx="1.5" ry="1.1" fill="rgb(54,54,54)"/>
<ellipse cx="616.8" cy="66.0" rx="1.6" ry="1.7" fill="rgb(65,65,65)"/>
<ellipse cx="612.8" cy="75.3" rx="1.4" ry="1.1" fill="rgb(57,57,57)"/>
<ellipse cx="609.4" cy="72.4" rx="1.0" ry="1.2" fill="rgb(42,42,42)"/>
</g></g></g></g>
<g clip-path="url(#cp_c)"><g mask="url(#mk_c)"><g><g filter="url(#jetc)">
<rect x="23.1" y="211.0" width="668.5" height="161.4" fill="#000"/>
<path d="M47.6 289.56 L49.6 286.17 L50.6 284.86 L51.6 283.69 L52.6 282.75 L54.6 281.18 L55.6 280.48 L56.6 279.98 L59.6 278.77 L60.6 278.36 L61.6 278.08 L62.6 277.88 L63.6 277.73 L69.6 276.94 L70.6 276.89 L89.6 277.05 L119.6 277.15 L129.6 277.12 L134.6 277.18 L144.6 277.67 L149.6 277.98 L159.6 278.78 L160.6 278.82 L199.6 279.38 L249.6 279.67 L285.6 279.99 L291.6 280.31 L292.6 280.29 L299.6 279.90 L300.6 279.88 L339.6 279.99 L361.6 280.15 L362.6 280.21 L367.6 280.73 L368.6 280.71 L373.6 280.22 L374.6 280.18 L387.6 280.27 L388.6 280.33 L392.6 280.69 L393.6 280.76 L397.6 280.05 L398.6 279.98 L419.6 279.98 L420.6 280.04 L424.6 280.44 L425.6 280.44 L430.6 280.03 L431.6 280.00 L448.6 280.02 L468.6 280.55 L469.6 280.52 L475.6 280.19 L476.6 280.17 L497.6 280.18 L509.6 280.66 L510.6 280.63 L514.6 280.31 L515.6 280.28 L525.6 280.37 L526.6 280.47 L531.6 281.26 L532.6 281.10 L536.6 280.34 L537.6 280.26 L574.6 280.08 L589.6 280.30 L597.6 280.13 L598.6 280.13 L599.6 280.16 L600.6 280.23 L603.6 280.48 L604.6 280.66 L607.6 281.44 L611.6 282.38 L611.6 290.26 L607.6 289.58 L604.6 289.01 L603.6 288.88 L600.6 288.83 L599.6 288.80 L598.6 288.73 L597.6 288.68 L589.6 288.57 L574.6 288.92 L537.6 288.91 L536.6 288.83 L532.6 288.09 L531.6 287.94 L526.6 288.73 L525.6 288.83 L515.6 288.92 L514.6 288.89 L510.6 288.57 L509.6 288.54 L497.6 289.02 L476.6 289.02 L475.6 288.99 L469.6 288.64 L468.6 288.62 L448.6 289.07 L431.6 289.04 L430.6 289.01 L425.6 288.58 L424.6 288.57 L420.6 288.97 L419.6 289.02 L398.6 289.02 L397.6 288.95 L393.6 288.24 L392.6 288.31 L388.6 288.67 L387.6 288.73 L374.6 288.82 L373.6 288.78 L368.6 288.28 L367.6 288.26 L362.6 288.74 L361.6 288.80 L339.6 288.84 L300.6 288.73 L299.6 288.70 L292.6 288.22 L291.6 288.19 L285.6 288.44 L249.6 288.32 L199.6 288.22 L160.6 288.00 L159.6 288.02 L149.6 288.62 L144.6 289.00 L134.6 289.62 L129.6 289.75 L119.6 289.85 L89.6 289.95 L70.6 289.91 L69.6 289.89 L63.6 289.50 L62.6 289.41 L61.6 289.28 L60.6 289.25 L59.6 289.36 L56.6 289.71 L55.6 289.92 L54.6 290.22 L52.6 290.65 L51.6 291.01 L50.6 291.60 L49.6 292.05 L47.6 292.84 Z" fill="rgb(15,15,15)"/>
<path d="M47.6 289.72 L49.6 286.36 L50.6 285.06 L51.6 283.91 L52.6 282.98 L54.6 281.43 L55.6 280.74 L56.6 280.26 L59.6 279.09 L60.6 278.69 L61.6 278.43 L62.6 278.25 L63.6 278.11 L69.6 277.42 L70.6 277.38 L89.6 277.54 L119.6 277.64 L129.6 277.61 L134.6 277.67 L144.6 278.09 L149.6 278.36 L159.6 279.09 L160.6 279.12 L199.6 279.67 L249.6 279.95 L285.6 280.26 L291.6 280.58 L292.6 280.57 L299.6 280.17 L300.6 280.15 L339.6 280.26 L361.6 280.43 L362.6 280.49 L367.6 281.00 L368.6 280.99 L373.6 280.49 L374.6 280.46 L387.6 280.55 L388.6 280.61 L392.6 280.97 L393.6 281.03 L397.6 280.32 L398.6 280.25 L419.6 280.25 L420.6 280.31 L424.6 280.72 L425.6 280.71 L430.6 280.30 L431.6 280.27 L448.6 280.30 L468.6 280.82 L469.6 280.80 L475.6 280.47 L476.6 280.45 L497.6 280.45 L509.6 280.93 L510.6 280.90 L514.6 280.58 L515.6 280.56 L525.6 280.65 L526.6 280.75 L531.6 281.53 L532.6 281.38 L536.6 280.61 L537.6 280.53 L574.6 280.35 L589.6 280.58 L597.6 280.40 L598.6 280.41 L599.6 280.44 L600.6 280.50 L603.6 280.75 L604.6 280.94 L607.6 281.71 L611.6 282.66 L611.6 289.98 L607.6 289.31 L604.6 288.73 L603.6 288.61 L600.6 288.56 L599.6 288.52 L598.6 288.45 L597.6 288.40 L589.6 288.29 L574.6 288.65 L537.6 288.63 L536.6 288.56 L532.6 287.81 L531.6 287.66 L526.6 288.45 L525.6 288.55 L515.6 288.64 L514.6 288.62 L510.6 288.30 L509.6 288.27 L497.6 288.75 L476.6 288.74 L475.6 288.72 L469.6 288.37 L468.6 288.34 L448.6 288.80 L431.6 288.77 L430.6 288.73 L425.6 288.31 L424.6 288.30 L420.6 288.69 L419.6 288.75 L398.6 288.75 L397.6 288.68 L393.6 287.97 L392.6 288.03 L388.6 288.39 L387.6 288.45 L374.6 288.54 L373.6 288.51 L368.6 288.00 L367.6 287.98 L362.6 288.47 L361.6 288.53 L339.6 288.56 L300.6 288.45 L299.6 288.42 L292.6 287.94 L291.6 287.92 L285.6 288.16 L249.6 288.05 L199.6 287.92 L160.6 287.69 L159.6 287.71 L149.6 288.24 L144.6 288.59 L134.6 289.14 L129.6 289.26 L119.6 289.36 L89.6 289.46 L69.6 289.41 L63.6 289.12 L62.6 289.04 L61.6 288.93 L60.6 288.92 L59.6 289.04 L56.6 289.43 L55.6 289.66 L54.6 289.97 L52.6 290.42 L51.6 290.80 L50.6 291.40 L49.6 291.86 L47.6 292.68 Z" fill="rgb(31,31,31)"/>
<path d="M47.6 289.89 L49.6 286.55 L50.6 285.26 L51.6 284.12 L52.6 283.21 L54.6 281.68 L55.6 281.01 L56.6 280.54 L60.6 279.03 L61.6 278.78 L62.6 278.62 L63.6 278.49 L69.6 277.90 L70.6 277.86 L89.6 278.02 L119.6 278.12 L129.6 278.09 L134.6 278.15 L144.6 278.50 L149.6 278.75 L159.6 279.40 L160.6 279.43 L199.6 279.96 L249.6 280.22 L285.6 280.54 L291.6 280.86 L292.6 280.85 L299.6 280.45 L300.6 280.43 L339.6 280.54 L361.6 280.70 L362.6 280.77 L367.6 281.28 L368.6 281.26 L373.6 280.77 L374.6 280.73 L387.6 280.82 L388.6 280.88 L392.6 281.25 L393.6 281.31 L397.6 280.60 L398.6 280.53 L419.6 280.53 L420.6 280.59 L424.6 280.99 L425.6 280.99 L430.6 280.58 L431.6 280.55 L448.6 280.57 L468.6 281.10 L469.6 281.08 L475.6 280.74 L476.6 280.72 L497.6 280.73 L509.6 281.21 L510.6 281.18 L514.6 280.86 L515.6 280.83 L525.6 280.92 L526.6 281.02 L531.6 281.81 L532.6 281.65 L536.6 280.89 L537.6 280.81 L574.6 280.63 L589.6 280.86 L597.6 280.68 L598.6 280.69 L599.6 280.72 L600.6 280.78 L603.6 281.03 L604.6 281.22 L607.6 281.99 L611.6 282.93 L611.6 289.71 L607.6 289.03 L604.6 288.45 L603.6 288.33 L600.6 288.28 L599.6 288.24 L598.6 288.17 L597.6 288.13 L589.6 288.02 L574.6 288.37 L537.6 288.36 L536.6 288.28 L532.6 287.54 L531.6 287.39 L526.6 288.18 L525.6 288.28 L515.6 288.37 L514.6 288.34 L510.6 288.02 L509.6 287.99 L497.6 288.47 L476.6 288.47 L475.6 288.44 L469.6 288.09 L468.6 288.06 L448.6 288.52 L431.6 288.49 L430.6 288.46 L425.6 288.03 L424.6 288.02 L420.6 288.41 L419.6 288.47 L398.6 288.47 L397.6 288.40 L393.6 287.69 L392.6 287.75 L388.6 288.12 L387.6 288.18 L374.6 288.27 L373.6 288.23 L368.6 287.73 L367.6 287.71 L362.6 288.19 L361.6 288.25 L339.6 288.29 L300.6 288.17 L299.6 288.15 L292.6 287.67 L291.6 287.64 L285.6 287.89 L199.6 287.63 L160.6 287.38 L159.6 287.39 L149.6 287.86 L144.6 288.17 L134.6 288.65 L129.6 288.78 L119.6 288.88 L89.6 288.97 L69.6 288.93 L63.6 288.73 L62.6 288.68 L61.6 288.58 L60.6 288.58 L56.6 289.15 L55.6 289.39 L54.6 289.72 L52.6 290.19 L51.6 290.58 L50.6 291.20 L49.6 291.68 L47.6 292.51 Z" fill="rgb(46,46,46)"/>
<path d="M47.6 290.05 L49.6 286.74 L50.6 285.46 L51.6 284.34 L52.6 283.43 L54.6 281.94 L55.6 281.28 L56.6 280.82 L60.6 279.36 L61.6 279.13 L62.6 278.98 L63.6 278.88 L69.6 278.38 L70.6 278.35 L89.6 278.51 L119.6 278.61 L129.6 278.58 L134.6 278.64 L144.6 278.92 L149.6 279.13 L159.6 279.71 L199.6 280.26 L249.6 280.50 L285.6 280.82 L291.6 281.13 L292.6 281.12 L299.6 280.73 L300.6 280.70 L339.6 280.82 L361.6 280.98 L362.6 281.04 L367.6 281.56 L368.6 281.54 L373.6 281.04 L374.6 281.01 L387.6 281.10 L388.6 281.16 L392.6 281.52 L393.6 281.58 L397.6 280.87 L398.6 280.80 L419.6 280.80 L420.6 280.86 L424.6 281.27 L425.6 281.26 L430.6 280.85 L431.6 280.82 L448.6 280.85 L468.6 281.37 L469.6 281.35 L475.6 281.02 L476.6 281.00 L497.6 281.00 L509.6 281.49 L510.6 281.45 L514.6 281.13 L515.6 281.11 L525.6 281.20 L526.6 281.30 L531.6 282.08 L532.6 281.93 L536.6 281.16 L537.6 281.08 L574.6 280.90 L589.6 281.13 L597.6 280.95 L598.6 280.96 L599.6 280.99 L600.6 281.05 L603.6 281.30 L604.6 281.49 L607.6 282.27 L611.6 283.21 L611.6 289.43 L607.6 288.75 L604.6 288.18 L603.6 288.06 L600.6 288.01 L599.6 287.97 L598.6 287.90 L597.6 287.85 L589.6 287.74 L574.6 288.10 L537.6 288.08 L536.6 288.01 L532.6 287.26 L531.6 287.11 L526.6 287.90 L525.6 288.00 L515.6 288.09 L514.6 288.07 L510.6 287.75 L509.6 287.71 L497.6 288.20 L476.6 288.19 L475.6 288.17 L469.6 287.81 L468.6 287.79 L448.6 288.24 L431.6 288.22 L430.6 288.18 L425.6 287.76 L424.6 287.74 L420.6 288.14 L419.6 288.20 L398.6 288.20 L397.6 288.13 L393.6 287.42 L392.6 287.48 L388.6 287.84 L387.6 287.90 L374.6 287.99 L373.6 287.96 L368.6 287.45 L367.6 287.43 L362.6 287.92 L361.6 287.98 L339.6 288.01 L300.6 287.90 L299.6 287.87 L292.6 287.39 L291.6 287.37 L285.6 287.61 L199.6 287.33 L159.6 287.08 L149.6 287.48 L144.6 287.75 L134.6 288.16 L129.6 288.29 L119.6 288.39 L89.6 288.49 L69.6 288.45 L63.6 288.35 L62.6 288.31 L61.6 288.23 L60.6 288.25 L56.6 288.87 L55.6 289.12 L54.6 289.46 L52.6 289.97 L51.6 290.37 L50.6 291.00 L49.6 291.49 L47.6 292.35 Z" fill="rgb(61,61,61)"/>
<path d="M47.6 290.21 L49.6 286.93 L50.6 285.67 L51.6 284.55 L52.6 283.66 L54.6 282.19 L55.6 281.54 L56.6 281.10 L60.6 279.69 L61.6 279.48 L62.6 279.35 L63.6 279.26 L69.6 278.86 L70.6 278.84 L89.6 279.00 L119.6 279.10 L129.6 279.07 L134.6 279.13 L144.6 279.34 L149.6 279.51 L159.6 280.02 L199.6 280.55 L249.6 280.78 L285.6 281.09 L291.6 281.41 L292.6 281.40 L299.6 281.00 L300.6 280.98 L339.6 281.09 L361.6 281.25 L362.6 281.32 L367.6 281.83 L368.6 281.81 L373.6 281.32 L374.6 281.28 L387.6 281.38 L388.6 281.43 L392.6 281.80 L393.6 281.86 L397.6 281.15 L398.6 281.08 L419.6 281.08 L420.6 281.14 L424.6 281.55 L425.6 281.54 L430.6 281.13 L431.6 281.10 L448.6 281.13 L468.6 281.65 L469.6 281.63 L475.6 281.29 L476.6 281.27 L497.6 281.28 L509.6 281.76 L510.6 281.73 L514.6 281.41 L515.6 281.38 L525.6 281.47 L526.6 281.57 L531.6 282.36 L532.6 282.20 L536.6 281.44 L537.6 281.36 L574.6 281.18 L589.6 281.41 L597.6 281.23 L598.6 281.24 L599.6 281.27 L600.6 281.33 L603.6 281.58 L604.6 281.77 L607.6 282.54 L611.6 283.49 L611.6 289.15 L607.6 288.48 L604.6 287.90 L603.6 287.78 L600.6 287.73 L599.6 287.69 L598.6 287.62 L597.6 287.58 L589.6 287.47 L574.6 287.82 L537.6 287.81 L536.6 287.73 L532.6 286.99 L531.6 286.83 L526.6 287.63 L525.6 287.73 L515.6 287.82 L514.6 287.79 L510.6 287.47 L509.6 287.44 L497.6 287.92 L476.6 287.92 L475.6 287.89 L469.6 287.54 L468.6 287.51 L448.6 287.97 L431.6 287.94 L430.6 287.91 L425.6 287.48 L424.6 287.47 L420.6 287.86 L419.6 287.92 L398.6 287.92 L397.6 287.85 L393.6 287.14 L392.6 287.20 L388.6 287.57 L387.6 287.62 L374.6 287.72 L373.6 287.68 L368.6 287.18 L367.6 287.15 L362.6 287.64 L361.6 287.70 L339.6 287.73 L300.6 287.62 L299.6 287.59 L292.6 287.11 L291.6 287.09 L285.6 287.34 L199.6 287.04 L159.6 286.77 L149.6 287.10 L144.6 287.33 L134.6 287.68 L129.6 287.80 L119.6 287.90 L89.6 288.00 L63.6 287.97 L62.6 287.94 L61.6 287.88 L60.6 287.91 L56.6 288.59 L55.6 288.86 L54.6 289.21 L52.6 289.74 L51.6 290.15 L50.6 290.80 L49.6 291.30 L47.6 292.19 Z" fill="rgb(76,76,76)"/>
<path d="M47.6 290.40 L49.6 287.15 L50.6 285.90 L51.6 284.80 L52.6 283.93 L54.6 282.49 L55.6 281.85 L56.6 281.42 L60.6 280.08 L61.6 279.88 L62.6 279.78 L63.6 279.70 L69.6 279.42 L70.6 279.40 L89.6 279.56 L119.6 279.67 L129.6 279.63 L144.6 279.83 L149.6 279.96 L159.6 280.38 L199.6 280.89 L249.6 281.10 L285.6 281.41 L291.6 281.73 L292.6 281.72 L299.6 281.32 L300.6 281.30 L339.6 281.41 L361.6 281.57 L362.6 281.64 L367.6 282.15 L368.6 282.14 L373.6 281.64 L374.6 281.60 L387.6 281.70 L388.6 281.75 L392.6 282.12 L393.6 282.18 L397.6 281.47 L398.6 281.40 L419.6 281.40 L420.6 281.46 L424.6 281.87 L425.6 281.86 L430.6 281.45 L431.6 281.42 L448.6 281.45 L468.6 281.97 L469.6 281.95 L475.6 281.62 L476.6 281.59 L497.6 281.60 L509.6 282.08 L510.6 282.05 L514.6 281.73 L515.6 281.71 L525.6 281.80 L526.6 281.89 L531.6 282.68 L532.6 282.52 L536.6 281.76 L537.6 281.68 L574.6 281.50 L589.6 281.73 L597.6 281.55 L598.6 281.56 L599.6 281.59 L600.6 281.65 L603.6 281.90 L604.6 282.09 L607.6 282.86 L611.6 283.81 L611.6 288.83 L607.6 288.16 L604.6 287.58 L603.6 287.46 L600.6 287.41 L599.6 287.37 L598.6 287.30 L597.6 287.25 L589.6 287.14 L574.6 287.50 L537.6 287.48 L536.6 287.41 L532.6 286.66 L531.6 286.51 L526.6 287.31 L525.6 287.40 L515.6 287.49 L514.6 287.47 L510.6 287.15 L509.6 287.12 L497.6 287.60 L476.6 287.59 L475.6 287.57 L469.6 287.22 L468.6 287.19 L448.6 287.65 L431.6 287.62 L430.6 287.58 L425.6 287.16 L424.6 287.15 L420.6 287.54 L419.6 287.60 L398.6 287.60 L397.6 287.53 L393.6 286.82 L392.6 286.88 L388.6 287.25 L387.6 287.30 L374.6 287.40 L373.6 287.36 L368.6 286.86 L367.6 286.83 L362.6 287.32 L361.6 287.38 L339.6 287.41 L300.6 287.30 L299.6 287.27 L292.6 286.79 L291.6 286.77 L285.6 287.01 L249.6 286.90 L199.6 286.70 L159.6 286.41 L149.6 286.65 L144.6 286.84 L129.6 287.24 L119.6 287.33 L89.6 287.43 L69.6 287.41 L63.6 287.52 L62.6 287.52 L61.6 287.48 L60.6 287.52 L56.6 288.26 L55.6 288.55 L54.6 288.91 L52.6 289.47 L51.6 289.90 L50.6 290.56 L49.6 291.08 L47.6 292.00 Z" fill="rgb(94,94,94)"/>
<path d="M47.6 291.20 L48.6 289.84 L49.6 288.07 L50.6 286.72 L51.6 285.50 L52.6 284.54 L54.6 283.00 L55.6 282.32 L56.6 281.84 L59.6 280.74 L60.6 280.39 L61.6 280.17 L62.6 280.05 L63.6 279.96 L66.6 279.80 L69.6 279.66 L70.6 279.64 L89.6 279.80 L119.6 279.89 L129.6 279.86 L144.6 280.04 L149.6 280.15 L159.6 280.56 L199.6 281.07 L249.6 281.28 L283.6 281.59 L285.6 281.63 L288.6 281.80 L291.6 281.99 L292.6 281.98 L299.6 281.56 L300.6 281.53 L329.6 281.61 L339.6 281.65 L361.6 281.82 L362.6 281.89 L365.6 282.25 L367.6 282.52 L368.6 282.50 L372.6 282.02 L373.6 281.90 L374.6 281.86 L387.6 281.95 L388.6 282.01 L391.6 282.33 L392.6 282.44 L393.6 282.52 L395.6 282.09 L397.6 281.70 L398.6 281.62 L409.6 281.60 L419.6 281.61 L420.6 281.68 L423.6 282.03 L424.6 282.15 L425.6 282.14 L429.6 281.75 L430.6 281.66 L431.6 281.62 L440.6 281.63 L448.6 281.67 L455.6 281.88 L467.6 282.27 L468.6 282.30 L469.6 282.27 L474.6 281.93 L475.6 281.86 L476.6 281.84 L486.6 281.82 L497.6 281.85 L501.6 282.02 L508.6 282.37 L509.6 282.43 L510.6 282.38 L513.6 282.08 L514.6 281.98 L515.6 281.95 L523.6 282.02 L525.6 282.08 L526.6 282.20 L528.6 282.57 L529.6 282.77 L530.6 283.00 L531.6 283.27 L532.6 282.97 L533.6 282.70 L535.6 282.23 L536.6 282.01 L537.6 281.93 L550.6 281.84 L558.6 281.77 L572.6 281.71 L574.6 281.72 L578.6 281.83 L589.6 282.03 L597.6 281.82 L599.6 281.82 L600.6 281.87 L602.6 282.01 L603.6 282.09 L604.6 282.28 L607.6 283.04 L609.6 283.52 L610.6 283.78 L611.6 284.10 L611.6 288.54 L610.6 288.46 L609.6 288.32 L607.6 287.98 L604.6 287.39 L603.6 287.27 L602.6 287.25 L600.6 287.19 L599.6 287.14 L598.6 287.05 L597.6 286.98 L589.6 286.84 L578.6 287.13 L574.6 287.28 L572.6 287.30 L558.6 287.30 L550.6 287.27 L537.6 287.24 L536.6 287.16 L535.6 286.95 L533.6 286.49 L532.6 286.21 L531.6 285.92 L530.6 286.20 L529.6 286.43 L528.6 286.63 L526.6 287.00 L525.6 287.12 L523.6 287.18 L515.6 287.25 L514.6 287.22 L513.6 287.12 L510.6 286.82 L509.6 286.77 L508.6 286.83 L501.6 287.18 L497.6 287.35 L486.6 287.38 L476.6 287.35 L475.6 287.32 L474.6 287.26 L469.6 286.89 L468.6 286.86 L467.6 286.89 L455.6 287.24 L448.6 287.43 L440.6 287.44 L431.6 287.42 L430.6 287.38 L429.6 287.28 L425.6 286.88 L424.6 286.87 L423.6 286.99 L420.6 287.32 L419.6 287.39 L409.6 287.40 L398.6 287.38 L397.6 287.30 L395.6 286.91 L393.6 286.48 L392.6 286.56 L391.6 286.67 L388.6 286.99 L387.6 287.05 L374.6 287.14 L373.6 287.10 L371.6 286.87 L368.6 286.50 L367.6 286.47 L365.6 286.72 L362.6 287.07 L361.6 287.13 L339.6 287.18 L329.6 287.16 L300.6 287.07 L299.6 287.04 L292.6 286.53 L291.6 286.51 L288.6 286.67 L285.6 286.80 L283.6 286.81 L249.6 286.71 L199.6 286.52 L159.6 286.23 L149.6 286.45 L144.6 286.64 L129.6 287.01 L119.6 287.11 L89.6 287.20 L69.6 287.17 L66.6 287.23 L63.6 287.26 L62.6 287.24 L61.6 287.19 L60.6 287.22 L59.6 287.39 L56.6 287.85 L55.6 288.08 L54.6 288.40 L52.6 288.86 L51.6 289.20 L50.6 289.74 L49.6 290.15 L48.6 290.45 L47.6 291.20 Z" fill="rgb(112,112,112)"/>
<path d="M47.6 291.20 L49.6 289.11 L50.6 288.23 L51.6 286.46 L52.6 285.26 L53.6 284.37 L54.6 283.54 L55.6 282.78 L56.6 282.25 L58.6 281.43 L60.6 280.67 L61.6 280.44 L62.6 280.30 L63.6 280.20 L65.6 280.06 L69.6 279.87 L70.6 279.86 L89.6 280.01 L119.6 280.10 L129.6 280.06 L144.6 280.22 L149.6 280.33 L159.6 280.73 L199.6 281.23 L249.6 281.45 L283.6 281.78 L285.6 281.82 L287.6 281.94 L291.6 282.24 L292.6 282.23 L299.6 281.77 L300.6 281.75 L329.6 281.81 L339.6 281.87 L361.6 282.05 L362.6 282.13 L364.6 282.40 L366.6 282.71 L367.6 282.90 L368.6 282.87 L370.6 282.55 L373.6 282.15 L374.6 282.11 L387.6 282.18 L388.6 282.25 L390.6 282.50 L392.6 282.77 L393.6 282.87 L394.6 282.59 L395.6 282.34 L397.6 281.91 L398.6 281.82 L409.6 281.78 L419.6 281.81 L420.6 281.88 L423.6 282.27 L424.6 282.42 L425.6 282.40 L428.6 282.06 L430.6 281.85 L431.6 281.81 L439.6 281.81 L448.6 281.87 L453.6 282.04 L464.6 282.46 L468.6 282.63 L469.6 282.59 L472.6 282.32 L475.6 282.09 L476.6 282.06 L486.6 282.03 L497.6 282.09 L499.6 282.18 L505.6 282.51 L509.6 282.77 L510.6 282.71 L512.6 282.45 L514.6 282.22 L515.6 282.18 L523.6 282.24 L524.6 282.28 L525.6 282.35 L526.6 282.50 L527.6 282.71 L528.6 282.94 L529.6 283.21 L530.6 283.57 L531.6 284.27 L532.6 283.50 L533.6 283.07 L534.6 282.76 L535.6 282.50 L536.6 282.25 L537.6 282.16 L549.6 282.05 L557.6 281.96 L572.6 281.89 L574.6 281.92 L576.6 282.01 L578.6 282.10 L589.6 282.32 L590.6 282.31 L597.6 282.08 L599.6 282.05 L600.6 282.07 L602.6 282.19 L603.6 282.26 L604.6 282.45 L607.6 283.21 L609.6 283.68 L610.6 283.97 L611.6 284.38 L611.6 288.26 L610.6 288.27 L609.6 288.16 L607.6 287.81 L604.6 287.22 L603.6 287.10 L602.6 287.07 L600.6 286.99 L599.6 286.91 L598.6 286.80 L597.6 286.73 L590.6 286.55 L589.6 286.55 L578.6 286.87 L576.6 286.98 L574.6 287.08 L572.6 287.12 L557.6 287.12 L549.6 287.06 L537.6 287.01 L536.6 286.92 L535.6 286.68 L534.6 286.42 L533.6 286.11 L532.6 285.69 L531.6 284.92 L530.6 285.63 L529.6 285.99 L528.6 286.26 L527.6 286.49 L526.6 286.70 L525.6 286.85 L524.6 286.92 L523.6 286.96 L515.6 287.02 L514.6 286.98 L512.6 286.75 L510.6 286.49 L509.6 286.43 L505.6 286.69 L499.6 287.02 L497.6 287.11 L486.6 287.17 L476.6 287.13 L475.6 287.09 L472.6 286.85 L469.6 286.57 L468.6 286.53 L464.6 286.68 L453.6 287.07 L448.6 287.23 L439.6 287.26 L431.6 287.23 L430.6 287.19 L428.6 286.97 L425.6 286.61 L424.6 286.59 L423.6 286.74 L420.6 287.12 L419.6 287.19 L409.6 287.22 L398.6 287.18 L397.6 287.09 L395.6 286.66 L394.6 286.41 L393.6 286.13 L392.6 286.23 L390.6 286.50 L388.6 286.75 L387.6 286.82 L374.6 286.89 L373.6 286.85 L370.6 286.45 L368.6 286.12 L367.6 286.09 L366.6 286.27 L364.6 286.57 L362.6 286.83 L361.6 286.90 L339.6 286.96 L329.6 286.96 L300.6 286.85 L299.6 286.82 L292.6 286.28 L291.6 286.26 L287.6 286.51 L285.6 286.60 L283.6 286.62 L249.6 286.55 L199.6 286.36 L159.6 286.07 L149.6 286.27 L144.6 286.45 L129.6 286.81 L119.6 286.90 L89.6 286.99 L69.6 286.96 L65.6 287.03 L63.6 287.03 L62.6 286.99 L61.6 286.92 L60.6 286.94 L58.6 287.22 L56.6 287.44 L55.6 287.62 L54.6 287.86 L53.6 288.03 L51.6 288.24 L50.6 288.23 L49.6 289.11 L47.6 291.20 Z" fill="rgb(128,128,128)"/>
<path d="M47.6 291.20 L49.6 289.11 L51.6 287.35 L52.6 286.70 L53.6 285.32 L54.6 284.26 L55.6 283.37 L56.6 282.73 L57.6 282.25 L58.6 281.80 L59.6 281.38 L60.6 280.98 L61.6 280.73 L62.6 280.57 L63.6 280.46 L65.6 280.29 L69.6 280.10 L70.6 280.09 L89.6 280.23 L119.6 280.32 L129.6 280.28 L144.6 280.43 L149.6 280.53 L159.6 280.90 L199.6 281.41 L249.6 281.63 L283.6 281.98 L285.6 282.04 L287.6 282.18 L290.6 282.43 L291.6 282.52 L292.6 282.51 L297.6 282.15 L299.6 282.01 L300.6 281.99 L329.6 282.04 L339.6 282.11 L361.6 282.31 L362.6 282.40 L364.6 282.72 L365.6 282.91 L366.6 283.12 L367.6 283.40 L368.6 283.35 L369.6 283.11 L370.6 282.92 L372.6 282.58 L373.6 282.43 L374.6 282.38 L387.6 282.45 L388.6 282.53 L390.6 282.82 L391.6 282.98 L392.6 283.17 L393.6 283.32 L394.6 282.93 L395.6 282.63 L396.6 282.37 L397.6 282.13 L398.6 282.04 L409.6 281.97 L419.6 282.01 L420.6 282.10 L422.6 282.39 L424.6 282.73 L425.6 282.71 L427.6 282.42 L429.6 282.17 L430.6 282.05 L431.6 282.01 L439.6 282.00 L448.6 282.09 L452.6 282.24 L458.6 282.53 L463.6 282.76 L467.6 282.97 L468.6 283.03 L469.6 282.97 L471.6 282.73 L474.6 282.43 L475.6 282.35 L476.6 282.31 L486.6 282.25 L496.6 282.34 L497.6 282.35 L498.6 282.39 L502.6 282.64 L505.6 282.86 L508.6 283.10 L509.6 283.20 L510.6 283.11 L511.6 282.92 L513.6 282.62 L514.6 282.48 L515.6 282.44 L523.6 282.49 L524.6 282.55 L525.6 282.65 L526.6 282.84 L527.6 283.11 L528.6 283.42 L529.6 283.88 L530.6 284.60 L532.6 284.59 L533.6 283.58 L534.6 283.13 L535.6 282.80 L536.6 282.52 L537.6 282.41 L549.6 282.28 L557.6 282.15 L572.6 282.08 L573.6 282.10 L575.6 282.20 L577.6 282.35 L578.6 282.40 L589.6 282.67 L590.6 282.65 L598.6 282.32 L599.6 282.29 L600.6 282.29 L601.6 282.32 L603.6 282.45 L604.6 282.64 L607.6 283.39 L609.6 283.85 L610.6 284.18 L611.6 284.71 L611.6 287.93 L610.6 288.06 L609.6 287.99 L607.6 287.63 L604.6 287.03 L603.6 286.91 L601.6 286.84 L600.6 286.77 L599.6 286.67 L598.6 286.54 L597.6 286.44 L590.6 286.21 L589.6 286.21 L578.6 286.57 L577.6 286.63 L575.6 286.80 L573.6 286.90 L572.6 286.93 L557.6 286.92 L549.6 286.83 L537.6 286.76 L536.6 286.65 L535.6 286.37 L534.6 286.05 L533.6 285.60 L532.6 284.59 L530.6 284.60 L529.6 285.32 L528.6 285.78 L527.6 286.09 L526.6 286.36 L525.6 286.55 L524.6 286.65 L523.6 286.71 L515.6 286.76 L514.6 286.72 L513.6 286.58 L511.6 286.28 L510.6 286.09 L509.6 286.00 L508.6 286.10 L505.6 286.34 L502.6 286.56 L498.6 286.81 L497.6 286.85 L496.6 286.86 L486.6 286.95 L476.6 286.88 L475.6 286.84 L474.6 286.75 L471.6 286.44 L469.6 286.19 L468.6 286.13 L467.6 286.19 L463.6 286.39 L458.6 286.60 L452.6 286.86 L448.6 287.01 L439.6 287.06 L431.6 287.03 L430.6 286.98 L429.6 286.86 L427.6 286.61 L425.6 286.31 L424.6 286.28 L422.6 286.62 L420.6 286.90 L419.6 286.99 L409.6 287.03 L398.6 286.96 L397.6 286.87 L396.6 286.63 L395.6 286.37 L394.6 286.07 L393.6 285.68 L392.6 285.83 L391.6 286.02 L390.6 286.18 L388.6 286.47 L387.6 286.55 L374.6 286.62 L373.6 286.57 L372.6 286.42 L370.6 286.08 L369.6 285.88 L368.6 285.64 L367.6 285.59 L366.6 285.86 L365.6 286.07 L364.6 286.25 L362.6 286.56 L361.6 286.64 L339.6 286.72 L329.6 286.73 L300.6 286.62 L299.6 286.58 L297.6 286.42 L292.6 286.00 L291.6 285.98 L290.6 286.06 L287.6 286.27 L285.6 286.39 L283.6 286.43 L249.6 286.37 L199.6 286.18 L159.6 285.89 L149.6 286.08 L144.6 286.25 L129.6 286.59 L119.6 286.68 L89.6 286.76 L69.6 286.73 L65.6 286.80 L63.6 286.77 L62.6 286.72 L61.6 286.63 L60.6 286.63 L59.6 286.75 L58.6 286.85 L57.6 286.92 L56.6 286.96 L55.6 287.03 L54.6 287.14 L53.6 287.08 L52.6 286.70 L51.6 287.35 L49.6 289.11 L47.6 291.20 Z" fill="rgb(143,143,143)"/>
<path d="M47.6 291.20 L49.6 289.11 L51.6 287.35 L52.6 286.70 L54.6 285.70 L55.6 284.26 L56.6 283.36 L57.6 282.76 L58.6 282.24 L59.6 281.76 L60.6 281.33 L61.6 281.05 L62.6 280.87 L63.6 280.73 L65.6 280.54 L69.6 280.34 L70.6 280.33 L89.6 280.48 L119.6 280.55 L129.6 280.52 L144.6 280.64 L149.6 280.73 L159.6 281.09 L199.6 281.59 L249.6 281.83 L283.6 282.20 L285.6 282.28 L287.6 282.44 L290.6 282.75 L291.6 282.87 L292.6 282.86 L295.6 282.59 L299.6 282.28 L300.6 282.25 L329.6 282.29 L339.6 282.37 L361.6 282.60 L362.6 282.70 L363.6 282.89 L364.6 283.11 L365.6 283.37 L366.6 283.73 L367.6 284.49 L368.6 284.50 L369.6 283.72 L370.6 283.39 L371.6 283.14 L372.6 282.94 L373.6 282.76 L374.6 282.69 L387.6 282.75 L388.6 282.85 L389.6 283.02 L390.6 283.21 L391.6 283.45 L392.6 283.77 L393.6 284.15 L394.6 283.38 L395.6 282.97 L396.6 282.66 L397.6 282.39 L398.6 282.28 L409.6 282.18 L419.6 282.24 L420.6 282.34 L422.6 282.68 L423.6 282.88 L424.6 283.12 L425.6 283.08 L426.6 282.88 L428.6 282.55 L430.6 282.28 L431.6 282.23 L439.6 282.21 L448.6 282.33 L451.6 282.46 L455.6 282.69 L458.6 282.87 L462.6 283.11 L465.6 283.31 L467.6 283.48 L468.6 283.57 L469.6 283.47 L470.6 283.28 L471.6 283.12 L473.6 282.85 L475.6 282.63 L476.6 282.59 L486.6 282.50 L494.6 282.60 L497.6 282.65 L498.6 282.70 L501.6 282.92 L504.6 283.19 L506.6 283.40 L508.6 283.66 L509.6 283.84 L510.6 283.66 L511.6 283.36 L512.6 283.14 L513.6 282.95 L514.6 282.78 L515.6 282.73 L523.6 282.77 L524.6 282.85 L525.6 283.01 L526.6 283.28 L527.6 283.66 L528.6 284.47 L529.6 284.60 L533.6 284.59 L534.6 283.64 L535.6 283.17 L536.6 282.83 L537.6 282.70 L549.6 282.53 L557.6 282.36 L572.6 282.29 L573.6 282.32 L575.6 282.46 L577.6 282.67 L578.6 282.74 L586.6 282.99 L589.6 283.09 L590.6 283.07 L595.6 282.80 L597.6 282.70 L599.6 282.56 L600.6 282.53 L601.6 282.54 L602.6 282.59 L603.6 282.66 L604.6 282.84 L607.6 283.59 L609.6 284.04 L610.6 284.42 L611.6 285.13 L611.6 287.51 L610.6 287.82 L609.6 287.80 L607.6 287.43 L604.6 286.83 L603.6 286.70 L602.6 286.67 L601.6 286.62 L600.6 286.53 L599.6 286.40 L598.6 286.23 L597.6 286.10 L595.6 286.02 L590.6 285.80 L589.6 285.78 L586.6 285.91 L578.6 286.23 L577.6 286.30 L575.6 286.53 L574.6 286.62 L573.6 286.68 L572.6 286.72 L557.6 286.71 L549.6 286.58 L537.6 286.47 L536.6 286.34 L535.6 286.00 L534.6 285.54 L533.6 284.59 L529.6 284.60 L528.6 284.73 L527.6 285.54 L526.6 285.92 L525.6 286.19 L524.6 286.35 L523.6 286.43 L515.6 286.47 L514.6 286.42 L513.6 286.25 L512.6 286.06 L511.6 285.84 L510.6 285.54 L509.6 285.36 L508.6 285.54 L506.6 285.80 L504.6 286.01 L501.6 286.28 L498.6 286.50 L497.6 286.55 L494.6 286.60 L486.6 286.70 L476.6 286.60 L475.6 286.55 L473.6 286.32 L471.6 286.05 L470.6 285.89 L469.6 285.69 L468.6 285.59 L467.6 285.68 L465.6 285.84 L462.6 286.04 L458.6 286.26 L455.6 286.43 L451.6 286.64 L448.6 286.77 L439.6 286.85 L431.6 286.81 L430.6 286.76 L428.6 286.48 L426.6 286.14 L425.6 285.94 L424.6 285.90 L423.6 286.13 L422.6 286.33 L420.6 286.66 L419.6 286.76 L409.6 286.82 L398.6 286.72 L397.6 286.61 L396.6 286.34 L395.6 286.03 L394.6 285.62 L393.6 284.85 L392.6 285.23 L391.6 285.55 L390.6 285.79 L389.6 285.98 L388.6 286.15 L387.6 286.25 L374.6 286.31 L373.6 286.24 L372.6 286.06 L371.6 285.86 L370.6 285.61 L369.6 285.28 L368.6 284.50 L367.6 284.49 L366.6 285.25 L365.6 285.60 L364.6 285.86 L363.6 286.07 L362.6 286.25 L361.6 286.35 L339.6 286.45 L329.6 286.48 L300.6 286.36 L299.6 286.32 L295.6 285.96 L292.6 285.65 L291.6 285.63 L290.6 285.74 L287.6 286.01 L285.6 286.15 L283.6 286.21 L249.6 286.17 L199.6 286.00 L159.6 285.71 L149.6 285.87 L144.6 286.03 L129.6 286.36 L119.6 286.45 L89.6 286.52 L69.6 286.48 L65.6 286.55 L63.6 286.49 L62.6 286.42 L61.6 286.31 L60.6 286.28 L59.6 286.36 L58.6 286.41 L57.6 286.41 L56.6 286.32 L55.6 286.14 L54.6 285.70 L52.6 286.70 L51.6 287.35 L49.6 289.11 L47.6 291.20 Z" fill="rgb(158,158,158)"/>
<path d="M47.6 291.20 L49.6 289.11 L51.6 287.35 L52.6 286.70 L55.6 285.20 L56.6 284.84 L57.6 283.49 L58.6 282.80 L59.6 282.23 L60.6 281.73 L61.6 281.41 L62.6 281.21 L63.6 281.04 L65.6 280.81 L66.6 280.74 L69.6 280.61 L70.6 280.60 L89.6 280.74 L119.6 280.81 L129.6 280.77 L144.6 280.88 L149.6 280.96 L159.6 281.29 L199.6 281.80 L249.6 282.04 L283.6 282.44 L284.6 282.48 L285.6 282.55 L287.6 282.76 L289.6 283.01 L290.6 283.15 L291.6 283.33 L292.6 283.32 L294.6 283.07 L297.6 282.76 L299.6 282.58 L300.6 282.55 L329.6 282.57 L339.6 282.68 L345.6 282.77 L361.6 282.94 L362.6 283.08 L363.6 283.33 L364.6 283.66 L365.6 284.49 L370.6 284.50 L371.6 283.73 L372.6 283.40 L373.6 283.16 L374.6 283.07 L387.6 283.12 L388.6 283.24 L389.6 283.48 L390.6 283.81 L391.6 284.50 L393.6 284.50 L394.6 284.23 L395.6 283.41 L396.6 283.00 L397.6 282.67 L398.6 282.55 L409.6 282.41 L419.6 282.50 L420.6 282.61 L421.6 282.80 L422.6 283.02 L423.6 283.29 L424.6 283.66 L425.6 283.59 L426.6 283.28 L427.6 283.05 L428.6 282.85 L430.6 282.53 L431.6 282.47 L439.6 282.44 L446.6 282.56 L448.6 282.60 L450.6 282.70 L453.6 282.90 L456.6 283.13 L460.6 283.47 L462.6 283.66 L463.6 283.77 L464.6 283.91 L465.6 284.08 L466.6 284.37 L467.6 284.58 L469.6 284.58 L470.6 283.98 L471.6 283.66 L472.6 283.44 L473.6 283.26 L475.6 282.97 L476.6 282.91 L486.6 282.79 L491.6 282.87 L497.6 283.00 L498.6 283.07 L500.6 283.26 L502.6 283.48 L503.6 283.61 L504.6 283.77 L505.6 283.96 L506.6 284.26 L507.6 284.60 L510.6 284.60 L511.6 284.11 L512.6 283.65 L513.6 283.37 L514.6 283.15 L515.6 283.07 L523.6 283.11 L524.6 283.23 L525.6 283.49 L526.6 283.95 L527.6 284.60 L534.6 284.59 L535.6 283.69 L536.6 283.20 L537.6 283.04 L548.6 282.83 L557.6 282.60 L572.6 282.53 L573.6 282.57 L574.6 282.66 L575.6 282.77 L576.6 282.90 L577.6 283.07 L578.6 283.18 L583.6 283.39 L586.6 283.55 L589.6 283.74 L590.6 283.70 L592.6 283.50 L595.6 283.26 L597.6 283.13 L599.6 282.88 L600.6 282.81 L601.6 282.78 L602.6 282.82 L603.6 282.89 L604.6 283.07 L607.6 283.80 L609.6 284.26 L610.6 284.69 L611.6 285.83 L611.6 286.81 L610.6 287.55 L609.6 287.58 L607.6 287.22 L604.6 286.60 L603.6 286.47 L602.6 286.44 L601.6 286.38 L600.6 286.25 L599.6 286.08 L598.6 285.85 L597.6 285.67 L595.6 285.56 L592.6 285.35 L590.6 285.17 L589.6 285.13 L586.6 285.35 L583.6 285.53 L578.6 285.79 L577.6 285.90 L576.6 286.08 L575.6 286.23 L574.6 286.35 L573.6 286.44 L572.6 286.48 L557.6 286.48 L548.6 286.28 L537.6 286.13 L536.6 285.97 L535.6 285.49 L534.6 284.59 L527.6 284.60 L526.6 285.25 L525.6 285.71 L524.6 285.97 L523.6 286.09 L515.6 286.13 L514.6 286.05 L513.6 285.83 L512.6 285.55 L511.6 285.09 L510.6 284.60 L507.6 284.60 L506.6 284.94 L505.6 285.24 L504.6 285.43 L503.6 285.59 L502.6 285.72 L500.6 285.94 L498.6 286.13 L497.6 286.20 L491.6 286.33 L486.6 286.41 L476.6 286.28 L475.6 286.21 L473.6 285.92 L472.6 285.74 L471.6 285.51 L470.6 285.19 L469.6 284.58 L467.6 284.58 L466.6 284.78 L465.6 285.07 L464.6 285.24 L463.6 285.37 L462.6 285.48 L460.6 285.67 L456.6 285.99 L453.6 286.22 L450.6 286.40 L448.6 286.50 L446.6 286.53 L439.6 286.62 L431.6 286.57 L430.6 286.51 L428.6 286.18 L427.6 285.98 L426.6 285.74 L425.6 285.42 L424.6 285.36 L423.6 285.72 L422.6 285.99 L421.6 286.20 L420.6 286.39 L419.6 286.50 L409.6 286.59 L398.6 286.45 L397.6 286.33 L396.6 286.00 L395.6 285.59 L394.6 284.77 L393.6 284.50 L391.6 284.50 L390.6 285.19 L389.6 285.52 L388.6 285.76 L387.6 285.88 L374.6 285.93 L373.6 285.84 L372.6 285.60 L371.6 285.27 L370.6 284.50 L365.6 284.49 L364.6 285.31 L363.6 285.63 L362.6 285.88 L361.6 286.01 L345.6 286.09 L339.6 286.14 L329.6 286.20 L300.6 286.05 L299.6 286.01 L297.6 285.81 L294.6 285.47 L292.6 285.19 L291.6 285.17 L290.6 285.33 L289.6 285.47 L287.6 285.70 L285.6 285.87 L284.6 285.93 L283.6 285.96 L249.6 285.96 L199.6 285.79 L159.6 285.50 L149.6 285.65 L144.6 285.80 L129.6 286.10 L119.6 286.19 L89.6 286.26 L69.6 286.21 L66.6 286.28 L65.6 286.28 L63.6 286.19 L62.6 286.09 L61.6 285.95 L60.6 285.88 L59.6 285.90 L58.6 285.85 L57.6 285.68 L56.6 284.84 L55.6 285.20 L52.6 286.70 L51.6 287.35 L49.6 289.11 L47.6 291.20 Z" fill="rgb(173,173,173)"/>
<path d="M47.6 291.20 L49.6 289.11 L51.6 287.35 L52.6 286.70 L55.6 285.20 L56.6 284.84 L57.6 284.58 L58.6 283.76 L59.6 282.86 L60.6 282.24 L61.6 281.85 L62.6 281.60 L63.6 281.39 L64.6 281.24 L65.6 281.11 L66.6 281.03 L69.6 280.91 L89.6 281.03 L119.6 281.09 L129.6 281.05 L144.6 281.14 L149.6 281.20 L159.6 281.52 L199.6 282.02 L249.6 282.28 L276.6 282.63 L283.6 282.73 L284.6 282.79 L285.6 282.88 L286.6 283.01 L287.6 283.15 L288.6 283.33 L289.6 283.54 L290.6 283.87 L291.6 284.25 L292.6 284.26 L293.6 283.99 L294.6 283.68 L295.6 283.48 L296.6 283.33 L298.6 283.07 L299.6 282.96 L300.6 282.92 L329.6 282.90 L339.6 283.06 L344.6 283.16 L361.6 283.39 L362.6 283.59 L363.6 284.12 L364.6 284.48 L372.6 284.50 L373.6 283.74 L374.6 283.60 L387.6 283.62 L388.6 283.84 L389.6 284.50 L394.6 284.50 L395.6 284.34 L396.6 283.44 L397.6 283.02 L398.6 282.86 L407.6 282.70 L409.6 282.67 L417.6 282.76 L419.6 282.79 L420.6 282.92 L421.6 283.17 L422.6 283.47 L423.6 283.95 L424.6 284.51 L425.6 284.51 L426.6 283.91 L427.6 283.50 L428.6 283.22 L429.6 283.00 L430.6 282.81 L431.6 282.74 L439.6 282.70 L444.6 282.80 L448.6 282.91 L449.6 282.97 L452.6 283.21 L454.6 283.41 L456.6 283.67 L458.6 284.01 L459.6 284.22 L460.6 284.57 L471.6 284.59 L472.6 284.37 L473.6 283.87 L474.6 283.60 L475.6 283.40 L476.6 283.32 L486.6 283.12 L488.6 283.16 L493.6 283.31 L497.6 283.46 L498.6 283.56 L499.6 283.70 L500.6 283.87 L501.6 284.09 L502.6 284.60 L512.6 284.60 L513.6 284.05 L514.6 283.64 L515.6 283.52 L523.6 283.55 L524.6 283.76 L525.6 284.60 L535.6 284.59 L536.6 283.73 L537.6 283.48 L544.6 283.28 L549.6 283.16 L555.6 282.93 L557.6 282.86 L572.6 282.79 L573.6 282.85 L574.6 282.98 L575.6 283.14 L576.6 283.35 L577.6 283.65 L578.6 283.87 L579.6 283.96 L580.6 284.08 L581.6 284.26 L582.6 284.47 L594.6 284.41 L595.6 284.20 L596.6 283.96 L597.6 283.80 L598.6 283.52 L599.6 283.29 L600.6 283.15 L601.6 283.07 L602.6 283.08 L603.6 283.15 L604.6 283.33 L607.6 284.06 L609.6 284.50 L610.6 285.04 L611.6 286.32 L611.6 286.32 L610.6 287.20 L609.6 287.34 L607.6 286.96 L604.6 286.34 L603.6 286.21 L602.6 286.18 L601.6 286.09 L600.6 285.91 L599.6 285.67 L597.6 285.00 L596.6 284.85 L595.6 284.62 L594.6 284.41 L582.6 284.47 L581.6 284.68 L580.6 284.87 L579.6 285.00 L578.6 285.10 L577.6 285.33 L576.6 285.64 L575.6 285.86 L574.6 286.02 L573.6 286.15 L572.6 286.22 L557.6 286.22 L555.6 286.16 L549.6 285.95 L544.6 285.85 L537.6 285.68 L536.6 285.44 L535.6 284.59 L525.6 284.60 L524.6 285.44 L523.6 285.65 L515.6 285.68 L514.6 285.56 L513.6 285.15 L512.6 284.60 L502.6 284.60 L501.6 285.11 L500.6 285.33 L499.6 285.50 L498.6 285.64 L497.6 285.74 L493.6 285.89 L488.6 286.04 L486.6 286.08 L483.6 286.02 L476.6 285.87 L475.6 285.79 L474.6 285.58 L473.6 285.31 L472.6 284.81 L471.6 284.59 L460.6 284.57 L459.6 284.91 L458.6 285.12 L456.6 285.46 L454.6 285.70 L452.6 285.90 L449.6 286.13 L448.6 286.18 L444.6 286.28 L439.6 286.37 L431.6 286.30 L430.6 286.22 L429.6 286.03 L428.6 285.81 L427.6 285.53 L426.6 285.11 L425.6 284.51 L424.6 284.51 L423.6 285.06 L422.6 285.53 L421.6 285.84 L420.6 286.08 L419.6 286.21 L417.6 286.24 L409.6 286.33 L407.6 286.30 L398.6 286.14 L397.6 285.98 L396.6 285.56 L395.6 284.66 L394.6 284.50 L389.6 284.50 L388.6 285.16 L387.6 285.38 L374.6 285.40 L373.6 285.26 L372.6 284.50 L364.6 284.48 L363.6 284.85 L362.6 285.37 L361.6 285.56 L344.6 285.69 L339.6 285.77 L329.6 285.87 L300.6 285.69 L299.6 285.64 L298.6 285.51 L296.6 285.23 L295.6 285.06 L294.6 284.86 L293.6 284.53 L292.6 284.26 L291.6 284.25 L290.6 284.62 L289.6 284.93 L288.6 285.14 L287.6 285.30 L286.6 285.43 L285.6 285.55 L284.6 285.63 L283.6 285.67 L277.6 285.69 L249.6 285.72 L199.6 285.57 L159.6 285.28 L149.6 285.40 L144.6 285.54 L129.6 285.82 L119.6 285.91 L89.6 285.97 L69.6 285.92 L66.6 285.99 L65.6 285.98 L64.6 285.92 L63.6 285.84 L62.6 285.70 L61.6 285.51 L60.6 285.37 L59.6 285.27 L58.6 284.89 L57.6 284.58 L56.6 284.84 L55.6 285.20 L52.6 286.70 L51.6 287.35 L49.6 289.11 L47.6 291.20 Z" fill="rgb(189,189,189)"/>
<path d="M47.6 291.20 L49.6 289.11 L51.6 287.35 L52.6 286.70 L55.6 285.20 L56.6 284.84 L59.6 284.06 L60.6 283.03 L61.6 282.43 L62.6 282.08 L63.6 281.81 L64.6 281.61 L65.6 281.45 L66.6 281.37 L69.6 281.24 L89.6 281.36 L119.6 281.42 L129.6 281.37 L144.6 281.43 L149.6 281.48 L159.6 281.77 L199.6 282.28 L249.6 282.56 L269.6 282.85 L283.6 283.09 L284.6 283.17 L285.6 283.33 L286.6 283.53 L287.6 283.86 L288.6 284.23 L296.6 284.28 L297.6 284.01 L298.6 283.69 L299.6 283.49 L300.6 283.42 L329.6 283.34 L334.6 283.45 L339.6 283.60 L343.6 283.74 L345.6 283.81 L352.6 283.98 L356.6 284.11 L359.6 284.24 L360.6 284.29 L362.6 284.48 L370.6 284.50 L396.6 284.50 L397.6 283.46 L398.6 283.25 L404.6 283.09 L409.6 282.97 L414.6 283.04 L419.6 283.14 L420.6 283.32 L421.6 283.69 L422.6 284.50 L427.6 284.51 L428.6 283.75 L429.6 283.41 L430.6 283.16 L431.6 283.07 L439.6 283.00 L442.6 283.08 L447.6 283.26 L448.6 283.30 L449.6 283.38 L451.6 283.62 L452.6 283.76 L453.6 283.95 L454.6 284.23 L455.6 284.56 L474.6 284.59 L475.6 284.13 L476.6 283.93 L480.6 283.76 L485.6 283.59 L486.6 283.56 L487.6 283.58 L490.6 283.72 L492.6 283.84 L494.6 283.99 L495.6 284.08 L496.6 284.20 L497.6 284.39 L498.6 284.60 L529.6 284.60 L536.6 284.59 L537.6 284.37 L538.6 284.24 L540.6 284.06 L543.6 283.88 L547.6 283.70 L549.6 283.62 L553.6 283.37 L557.6 283.17 L572.6 283.11 L573.6 283.20 L574.6 283.39 L575.6 283.66 L576.6 284.18 L577.6 284.49 L597.6 284.40 L598.6 284.43 L599.6 283.93 L600.6 283.59 L601.6 283.42 L602.6 283.41 L603.6 283.47 L604.6 283.64 L607.6 284.36 L609.6 284.80 L611.6 286.32 L611.6 286.32 L609.6 287.04 L607.6 286.66 L604.6 286.03 L603.6 285.89 L602.6 285.85 L601.6 285.74 L600.6 285.47 L599.6 285.03 L598.6 284.43 L597.6 284.40 L577.6 284.49 L576.6 284.80 L575.6 285.34 L574.6 285.61 L573.6 285.81 L572.6 285.90 L557.6 285.90 L553.6 285.72 L549.6 285.49 L547.6 285.42 L543.6 285.26 L540.6 285.09 L538.6 284.93 L537.6 284.80 L536.6 284.59 L529.6 284.60 L498.6 284.60 L497.6 284.81 L496.6 285.00 L495.6 285.12 L494.6 285.21 L492.6 285.36 L490.6 285.48 L487.6 285.62 L486.6 285.64 L484.6 285.58 L479.6 285.40 L476.6 285.26 L475.6 285.06 L474.6 284.59 L455.6 284.56 L454.6 284.89 L453.6 285.16 L452.6 285.35 L451.6 285.49 L449.6 285.72 L448.6 285.79 L447.6 285.83 L442.6 286.00 L439.6 286.07 L431.6 285.97 L430.6 285.88 L429.6 285.62 L428.6 285.28 L427.6 284.51 L422.6 284.50 L421.6 285.32 L420.6 285.68 L419.6 285.86 L414.6 285.96 L409.6 286.03 L404.6 285.91 L398.6 285.75 L397.6 285.54 L396.6 284.50 L370.6 284.50 L362.6 284.48 L360.6 284.65 L359.6 284.71 L356.6 284.81 L352.6 284.92 L345.6 285.05 L343.6 285.11 L339.6 285.23 L334.6 285.35 L329.6 285.43 L300.6 285.18 L299.6 285.10 L298.6 284.89 L297.6 284.56 L296.6 284.28 L288.6 284.23 L287.6 284.59 L286.6 284.90 L285.6 285.10 L284.6 285.24 L283.6 285.32 L270.6 285.38 L249.6 285.44 L199.6 285.31 L159.6 285.02 L149.6 285.12 L144.6 285.24 L129.6 285.50 L119.6 285.58 L89.6 285.64 L69.6 285.58 L66.6 285.66 L65.6 285.64 L64.6 285.55 L63.6 285.42 L62.6 285.22 L61.6 284.93 L60.6 284.58 L59.6 284.06 L56.6 284.84 L55.6 285.20 L52.6 286.70 L51.6 287.35 L49.6 289.11 L47.6 291.20 Z" fill="rgb(204,204,204)"/>
<path d="M47.6 291.20 L49.6 289.11 L51.6 287.35 L52.6 286.70 L55.6 285.20 L56.6 284.84 L60.6 283.80 L61.6 283.68 L62.6 282.80 L63.6 282.35 L64.6 282.07 L65.6 281.86 L66.6 281.76 L69.6 281.64 L89.6 281.75 L119.6 281.80 L129.6 281.75 L144.6 281.78 L149.6 281.82 L159.6 282.08 L199.6 282.60 L249.6 282.91 L262.6 283.15 L273.6 283.38 L281.6 283.58 L283.6 283.64 L284.6 283.85 L285.6 284.21 L299.6 284.30 L369.6 284.50 L397.6 284.50 L398.6 283.84 L401.6 283.67 L405.6 283.49 L409.6 283.35 L410.6 283.35 L416.6 283.53 L419.6 283.63 L420.6 283.96 L421.6 284.50 L428.6 284.51 L429.6 284.12 L430.6 283.63 L431.6 283.49 L439.6 283.38 L440.6 283.40 L443.6 283.55 L446.6 283.73 L448.6 283.90 L449.6 284.07 L450.6 284.55 L479.6 284.60 L529.6 284.60 L550.6 284.55 L551.6 284.29 L552.6 284.08 L553.6 283.94 L555.6 283.74 L557.6 283.59 L558.6 283.56 L572.6 283.52 L573.6 283.67 L574.6 284.10 L575.6 284.50 L597.6 284.40 L598.6 284.43 L600.6 284.53 L601.6 283.94 L602.6 283.86 L603.6 283.92 L604.6 284.08 L607.6 284.78 L609.6 285.21 L610.6 286.12 L611.6 286.32 L611.6 286.32 L610.6 286.12 L609.6 286.63 L607.6 286.24 L604.6 285.59 L603.6 285.44 L602.6 285.40 L601.6 285.22 L600.6 284.53 L598.6 284.43 L597.6 284.40 L575.6 284.50 L574.6 284.90 L573.6 285.33 L572.6 285.49 L558.6 285.51 L557.6 285.49 L555.6 285.34 L553.6 285.15 L552.6 285.02 L551.6 284.82 L550.6 284.55 L529.6 284.60 L479.6 284.60 L450.6 284.55 L449.6 285.03 L448.6 285.20 L446.6 285.36 L443.6 285.53 L440.6 285.67 L439.6 285.69 L431.6 285.55 L430.6 285.41 L429.6 284.91 L428.6 284.51 L421.6 284.50 L420.6 285.04 L419.6 285.37 L416.6 285.47 L410.6 285.65 L409.6 285.65 L405.6 285.51 L401.6 285.33 L398.6 285.16 L397.6 284.50 L369.6 284.50 L299.6 284.30 L285.6 284.21 L284.6 284.56 L283.6 284.77 L281.6 284.80 L273.6 284.91 L262.6 285.01 L249.6 285.09 L199.6 284.99 L159.6 284.72 L149.6 284.79 L144.6 284.89 L129.6 285.12 L119.6 285.20 L89.6 285.24 L69.6 285.18 L66.6 285.27 L65.6 285.23 L64.6 285.09 L63.6 284.88 L62.6 284.49 L61.6 283.68 L60.6 283.80 L56.6 284.84 L55.6 285.20 L52.6 286.70 L51.6 287.35 L49.6 289.11 L47.6 291.20 Z" fill="rgb(219,219,219)"/>
<path d="M47.6 291.20 L49.6 289.11 L51.6 287.35 L52.6 286.70 L55.6 285.20 L56.6 284.84 L60.6 283.80 L61.6 283.68 L63.6 283.61 L64.6 282.76 L65.6 282.41 L66.6 282.27 L69.6 282.16 L89.6 282.26 L119.6 282.30 L129.6 282.24 L144.6 282.24 L149.6 282.25 L159.6 282.48 L199.6 283.04 L236.6 283.34 L249.6 283.45 L253.6 283.57 L256.6 283.69 L258.6 283.78 L259.6 283.84 L260.6 283.92 L261.6 284.07 L299.6 284.30 L369.6 284.50 L405.6 284.50 L406.6 284.27 L407.6 284.13 L409.6 283.95 L410.6 283.95 L412.6 284.09 L413.6 284.19 L414.6 284.33 L415.6 284.50 L430.6 284.52 L431.6 284.37 L432.6 284.27 L434.6 284.15 L437.6 284.03 L439.6 283.96 L440.6 284.01 L441.6 284.14 L442.6 284.32 L443.6 284.54 L479.6 284.60 L529.6 284.60 L574.6 284.50 L597.6 284.40 L598.6 284.43 L603.6 284.68 L604.6 284.83 L607.6 285.51 L611.6 286.32 L611.6 286.32 L607.6 285.51 L604.6 284.83 L603.6 284.68 L598.6 284.43 L597.6 284.40 L574.6 284.50 L529.6 284.60 L479.6 284.60 L443.6 284.54 L442.6 284.75 L441.6 284.94 L440.6 285.06 L439.6 285.10 L437.6 285.03 L434.6 284.90 L432.6 284.77 L431.6 284.67 L430.6 284.52 L415.6 284.50 L414.6 284.67 L413.6 284.81 L412.6 284.91 L410.6 285.05 L409.6 285.05 L407.6 284.87 L406.6 284.73 L405.6 284.50 L369.6 284.50 L299.6 284.30 L261.6 284.07 L260.6 284.20 L259.6 284.27 L258.6 284.32 L256.6 284.39 L253.6 284.47 L249.6 284.54 L233.6 284.56 L199.6 284.55 L159.6 284.31 L149.6 284.35 L144.6 284.44 L129.6 284.63 L119.6 284.70 L89.6 284.73 L69.6 284.67 L66.6 284.75 L65.6 284.68 L64.6 284.40 L63.6 283.61 L61.6 283.68 L60.6 283.80 L56.6 284.84 L55.6 285.20 L52.6 286.70 L51.6 287.35 L49.6 289.11 L47.6 291.20 Z" fill="rgb(235,235,235)"/>
<path d="M47.6 291.20 L49.6 289.11 L51.6 287.35 L52.6 286.70 L55.6 285.20 L56.6 284.84 L60.6 283.80 L61.6 283.68 L69.6 283.41 L89.6 283.50 L119.6 283.50 L149.6 283.30 L199.6 283.80 L249.6 284.00 L299.6 284.30 L369.6 284.50 L419.6 284.50 L479.6 284.60 L529.6 284.60 L574.6 284.50 L597.6 284.40 L598.6 284.43 L603.6 284.68 L604.6 284.83 L607.6 285.51 L611.6 286.32 L611.6 286.32 L607.6 285.51 L604.6 284.83 L603.6 284.68 L598.6 284.43 L597.6 284.40 L574.6 284.50 L529.6 284.60 L479.6 284.60 L419.6 284.50 L369.6 284.50 L299.6 284.30 L249.6 284.00 L199.6 283.80 L149.6 283.30 L119.6 283.50 L89.6 283.50 L69.6 283.41 L61.6 283.68 L60.6 283.80 L56.6 284.84 L55.6 285.20 L52.6 286.70 L51.6 287.35 L49.6 289.11 L47.6 291.20 Z" fill="rgb(250,250,250)"/>
<path d="M612.0 286.0 L640.0 285.4 L656.0 285.2" fill="none" stroke="rgb(51,51,51)" stroke-width="4.2" stroke-linecap="round" stroke-linejoin="round"/>
<path d="M612.5 285.9 L616.6 286.2" fill="none" stroke="rgb(110,110,110)" stroke-width="3.0" stroke-linecap="round" stroke-linejoin="round"/>
<path d="M612.9 285.9 L616.2 285.9" fill="none" stroke="rgb(158,158,158)" stroke-width="1.8" stroke-linecap="round" stroke-linejoin="round"/>
<path d="M617.6 285.5 L622.4 285.9" fill="none" stroke="rgb(90,90,90)" stroke-width="3.0" stroke-linecap="round" stroke-linejoin="round"/>
<path d="M618.0 285.5 L622.0 285.5" fill="none" stroke="rgb(129,129,129)" stroke-width="1.8" stroke-linecap="round" stroke-linejoin="round"/>
<path d="M623.3 285.5 L628.1 285.3" fill="none" stroke="rgb(92,92,92)" stroke-width="3.0" stroke-linecap="round" stroke-linejoin="round"/>
<path d="M623.7 285.5 L627.7 285.5" fill="none" stroke="rgb(132,132,132)" stroke-width="1.8" stroke-linecap="round" stroke-linejoin="round"/>
<path d="M629.0 285.2 L632.9 285.0" fill="none" stroke="rgb(68,68,68)" stroke-width="3.0" stroke-linecap="round" stroke-linejoin="round"/>
<path d="M629.4 285.2 L632.5 285.2" fill="none" stroke="rgb(97,97,97)" stroke-width="1.8" stroke-linecap="round" stroke-linejoin="round"/>
<path d="M634.0 285.7 L638.5 285.4" fill="none" stroke="rgb(72,72,72)" stroke-width="3.0" stroke-linecap="round" stroke-linejoin="round"/>
<path d="M634.4 285.7 L638.1 285.7" fill="none" stroke="rgb(103,103,103)" stroke-width="1.8" stroke-linecap="round" stroke-linejoin="round"/>
<path d="M639.4 285.8 L642.2 285.5" fill="none" stroke="rgb(68,68,68)" stroke-width="3.0" stroke-linecap="round" stroke-linejoin="round"/>
<path d="M639.8 285.8 L641.8 285.8" fill="none" stroke="rgb(97,97,97)" stroke-width="1.8" stroke-linecap="round" stroke-linejoin="round"/>
<path d="M642.9 285.1 L647.8 285.5" fill="none" stroke="rgb(72,72,72)" stroke-width="3.0" stroke-linecap="round" stroke-linejoin="round"/>
<path d="M643.3 285.1 L647.4 285.1" fill="none" stroke="rgb(103,103,103)" stroke-width="1.8" stroke-linecap="round" stroke-linejoin="round"/>
<path d="M648.7 285.7 L652.9 285.9" fill="none" stroke="rgb(58,58,58)" stroke-width="3.0" stroke-linecap="round" stroke-linejoin="round"/>
<path d="M649.1 285.7 L652.5 285.7" fill="none" stroke="rgb(83,83,83)" stroke-width="1.8" stroke-linecap="round" stroke-linejoin="round"/>
<path d="M654.1 285.1 L658.8 284.9" fill="none" stroke="rgb(60,60,60)" stroke-width="3.0" stroke-linecap="round" stroke-linejoin="round"/>
<path d="M654.5 285.1 L658.4 285.1" fill="none" stroke="rgb(86,86,86)" stroke-width="1.8" stroke-linecap="round" stroke-linejoin="round"/>
<ellipse cx="663.0" cy="285.2" rx="2.0" ry="1.1" fill="rgb(66,66,66)"/>
<ellipse cx="672.0" cy="286.0" rx="1.0" ry="0.8" fill="rgb(20,20,20)"/>
<path d="M48.4 291.4 L48.1 293.6" fill="none" stroke="rgb(112,112,112)" stroke-width="1.3" stroke-linecap="butt" stroke-linejoin="round"/>
<path d="M51.5 289.8 L51.2 291.9" fill="none" stroke="rgb(110,110,110)" stroke-width="1.3" stroke-linecap="butt" stroke-linejoin="round"/>
<path d="M54.3 288.8 L54.0 290.6" fill="none" stroke="rgb(110,110,110)" stroke-width="1.3" stroke-linecap="butt" stroke-linejoin="round"/>
<path d="M57.1 288.0 L56.8 290.5" fill="none" stroke="rgb(95,95,95)" stroke-width="1.3" stroke-linecap="butt" stroke-linejoin="round"/>
<path d="M59.6 287.5 L59.3 289.2" fill="none" stroke="rgb(121,121,121)" stroke-width="1.3" stroke-linecap="butt" stroke-linejoin="round"/>
<path d="M62.5 287.3 L62.2 289.0" fill="none" stroke="rgb(127,127,127)" stroke-width="1.3" stroke-linecap="butt" stroke-linejoin="round"/>
<path d="M65.7 287.3 L65.4 289.7" fill="none" stroke="rgb(114,114,114)" stroke-width="1.3" stroke-linecap="butt" stroke-linejoin="round"/>
<path d="M68.1 287.2 L67.8 288.9" fill="none" stroke="rgb(84,84,84)" stroke-width="1.3" stroke-linecap="butt" stroke-linejoin="round"/>
<path d="M70.3 287.2 L70.0 288.5" fill="none" stroke="rgb(73,73,73)" stroke-width="1.3" stroke-linecap="butt" stroke-linejoin="round"/>
<path d="M72.6 287.2 L72.3 288.7" fill="none" stroke="rgb(81,81,81)" stroke-width="1.3" stroke-linecap="butt" stroke-linejoin="round"/>
<path d="M75.6 287.2 L75.3 288.8" fill="none" stroke="rgb(88,88,88)" stroke-width="1.3" stroke-linecap="butt" stroke-linejoin="round"/>
<path d="M78.3 287.2 L78.0 288.9" fill="none" stroke="rgb(81,81,81)" stroke-width="1.3" stroke-linecap="butt" stroke-linejoin="round"/>
<path d="M80.8 287.2 L80.5 289.2" fill="none" stroke="rgb(102,102,102)" stroke-width="1.3" stroke-linecap="butt" stroke-linejoin="round"/>
<path d="M83.8 287.2 L83.5 288.9" fill="none" stroke="rgb(76,76,76)" stroke-width="1.3" stroke-linecap="butt" stroke-linejoin="round"/>
</g></g></g></g>
<g clip-path="url(#cp_d1)"><g mask="url(#mk_d1)"><g><g filter="url(#jets)">
<rect x="29.0" y="397.9" width="109.4" height="153.9" fill="#000"/>
<path d="M57.0 487.5 L64.0 486.0 L75.0 485.0 L88.0 486.0" fill="none" stroke="rgb(61,61,61)" stroke-width="2.6" stroke-linecap="round" stroke-linejoin="round"/>
<path d="M66.0 486.0 L76.0 485.0" fill="none" stroke="rgb(102,102,102)" stroke-width="2.2" stroke-linecap="round" stroke-linejoin="round"/>
<ellipse cx="70.0" cy="485.6" rx="3.0" ry="1.4" fill="rgb(107,107,107)"/>
<ellipse cx="80.0" cy="485.2" rx="3.0" ry="1.3" fill="rgb(92,92,92)"/>
<ellipse cx="60.0" cy="487.0" rx="2.4" ry="1.2" fill="rgb(76,76,76)"/>
<path d="M92.0 486.5 L100.0 486.5" fill="none" stroke="rgb(46,46,46)" stroke-width="1.8" stroke-linecap="round" stroke-linejoin="round"/>
<path d="M104.0 486.0 L116.0 485.5" fill="none" stroke="rgb(41,41,41)" stroke-width="1.8" stroke-linecap="round" stroke-linejoin="round"/>
<ellipse cx="70.0" cy="520.0" rx="2.0" ry="2.0" fill="rgb(18,18,18)"/>
<ellipse cx="103.0" cy="527.0" rx="1.6" ry="1.6" fill="rgb(15,15,15)"/>
</g></g></g></g>
<g clip-path="url(#cp_d2)"><g><g><g filter="url(#jetb)">
<rect x="123.5" y="398.4" width="107.0" height="153.4" fill="#000"/>
<path d="M155.0 496.6 L166.0 497.0" fill="none" stroke="rgb(92,92,92)" stroke-width="4.2" stroke-linecap="round" stroke-linejoin="round"/>
<path d="M155.5 496.5 L163.0 496.8" fill="none" stroke="rgb(117,117,117)" stroke-width="3.0" stroke-linecap="round" stroke-linejoin="round"/>
<ellipse cx="157.5" cy="496.4" rx="2.6" ry="1.6" fill="rgb(128,128,128)"/>
<ellipse cx="164.5" cy="497.2" rx="1.8" ry="1.6" fill="rgb(107,107,107)"/>
<path d="M171.0 498.5 L173.5 496.2 L176.0 499.0 L178.5 496.4 L180.0 499.0" fill="none" stroke="rgb(87,87,87)" stroke-width="1.6" stroke-linecap="round" stroke-linejoin="round"/>
<path d="M183.5 495.5 L184.0 498.0" fill="none" stroke="rgb(87,87,87)" stroke-width="1.6" stroke-linecap="round" stroke-linejoin="round"/>
<path d="M186.0 496.8 L192.0 497.0" fill="none" stroke="rgb(66,66,66)" stroke-width="1.8" stroke-linecap="round" stroke-linejoin="round"/>
<path d="M164.0 485.0 L167.0 483.5 L170.0 488.0 L173.0 485.0 L175.0 484.0" fill="none" stroke="rgb(56,56,56)" stroke-width="1.4" stroke-linecap="round" stroke-linejoin="round"/>
<ellipse cx="153.0" cy="484.0" rx="1.0" ry="2.0" fill="rgb(26,26,26)"/>
<ellipse cx="172.0" cy="458.0" rx="1.0" ry="3.0" fill="rgb(20,20,20)"/>
<ellipse cx="174.0" cy="470.0" rx="1.6" ry="1.2" fill="rgb(20,20,20)"/>
<ellipse cx="170.0" cy="512.0" rx="1.0" ry="3.0" fill="rgb(18,18,18)"/>
<path d="M175.0 524.0 L179.0 526.0 L182.0 531.0" fill="none" stroke="rgb(31,31,31)" stroke-width="1.3" stroke-linecap="round" stroke-linejoin="round"/>
<ellipse cx="196.0" cy="484.0" rx="1.0" ry="1.6" fill="rgb(18,18,18)"/>
<ellipse cx="203.0" cy="497.0" rx="1.2" ry="1.6" fill="rgb(20,20,20)"/>
<ellipse cx="213.0" cy="521.0" rx="1.0" ry="1.6" fill="rgb(15,15,15)"/>
</g></g></g></g>
<g clip-path="url(#cp_d3)"><g><g><g filter="url(#jets)">
<rect x="214.0" y="399.1" width="109.5" height="154.4" fill="#000"/>
<ellipse cx="257.4" cy="459.7" rx="1.8" ry="2.0" fill="rgb(41,41,41)"/>
<path d="M258.0 460.5 L263.0 464.5 L269.0 466.0 L272.0 464.0 L275.0 461.2" fill="none" stroke="rgb(43,43,43)" stroke-width="2.2" stroke-linecap="round" stroke-linejoin="round"/>
<ellipse cx="263.4" cy="464.8" rx="2.4" ry="2.6" fill="rgb(76,76,76)"/>
<ellipse cx="268.9" cy="465.7" rx="1.6" ry="2.2" fill="rgb(66,66,66)"/>
<ellipse cx="266.1" cy="472.1" rx="2.0" ry="1.8" fill="rgb(76,76,76)"/>
<ellipse cx="271.7" cy="472.1" rx="2.2" ry="1.4" fill="rgb(46,46,46)"/>
<ellipse cx="274.9" cy="461.1" rx="1.6" ry="1.4" fill="rgb(38,38,38)"/>
<path d="M272.0 468.0 L276.5 469.6 L279.4 467.5 L279.6 465.0" fill="none" stroke="rgb(46,46,46)" stroke-width="1.8" stroke-linecap="round" stroke-linejoin="round"/>
<ellipse cx="280.0" cy="459.5" rx="0.8" ry="0.8" fill="rgb(26,26,26)"/>
<ellipse cx="287.7" cy="464.8" rx="0.9" ry="2.0" fill="rgb(18,18,18)"/>
<ellipse cx="291.0" cy="464.8" rx="0.9" ry="2.0" fill="rgb(15,15,15)"/>
</g></g></g></g>
<text class="ax" transform="translate(31.0 27.5) scale(1.015 1)" text-anchor="end">70</text>
<line x1="8.8" y1="28.4" x2="31.9" y2="28.4" stroke="#2a2a2a" stroke-width="1.2"/>
<text class="ax" transform="translate(31.0 72.2) scale(1.015 1)" text-anchor="end">60</text>
<line x1="9.9" y1="74.4" x2="31.9" y2="74.4" stroke="#2a2a2a" stroke-width="1.2"/>
<text class="ax" transform="translate(31.9 122.3) scale(1.015 1)" text-anchor="end">50</text>
<line x1="9.9" y1="123.2" x2="31.9" y2="123.2" stroke="#808080" stroke-width="1.8"/>
<text class="kh" transform="translate(2.8 171.9) scale(0.93 1)" text-anchor="start">kHz</text>
<text class="ax" transform="translate(275.4 26.0) scale(1.015 1)" text-anchor="end">70</text>
<line x1="240.8" y1="28.5" x2="278.9" y2="28.5" stroke="#2a2a2a" stroke-width="1.2"/>
<text class="ax" transform="translate(276.3 72.6) scale(1.015 1)" text-anchor="end">60</text>
<line x1="240.8" y1="74.5" x2="278.9" y2="74.5" stroke="#2a2a2a" stroke-width="1.2"/>
<text class="ax" transform="translate(276.3 121.5) scale(1.015 1)" text-anchor="end">50</text>
<line x1="240.8" y1="123.0" x2="278.9" y2="123.0" stroke="#808080" stroke-width="2.0"/>
<text class="kh" transform="translate(245.6 166.9) scale(0.93 1)" text-anchor="start">kHz</text>
<text class="ax" transform="translate(29.3 247.5) scale(1.015 1)" text-anchor="end">30</text>
<line x1="9" y1="248.5" x2="33.2" y2="248.5" stroke="#2a2a2a" stroke-width="1.2"/>
<text class="ax" transform="translate(30.7 292.3) scale(1.015 1)" text-anchor="end">20</text>
<line x1="10.2" y1="294.0" x2="33.2" y2="294.0" stroke="#707070" stroke-width="1.6"/>
<text class="ax" transform="translate(30.6 338.0) scale(1.015 1)" text-anchor="end">10</text>
<line x1="11.2" y1="340.7" x2="33.2" y2="340.7" stroke="#2a2a2a" stroke-width="1.2"/>
<text class="kh" transform="translate(-1.6 364.6) scale(0.93 1)" text-anchor="start">kHz</text>
<text class="ax" transform="translate(31.9 430.5) scale(1.015 1)" text-anchor="end">30</text>
<line x1="11" y1="433.6" x2="36.1" y2="433.6" stroke="#505050" stroke-width="1.5"/>
<text class="ax" transform="translate(31.9 476.9) scale(1.015 1)" text-anchor="end">20</text>
<line x1="12.5" y1="478.5" x2="36.1" y2="478.5" stroke="#2a2a2a" stroke-width="1.2"/>
<text class="ax" transform="translate(33.3 522.1) scale(1.015 1)" text-anchor="end">10</text>
<line x1="11" y1="526.4" x2="36.1" y2="526.4" stroke="#2a2a2a" stroke-width="1.2"/>
<text class="kh" transform="translate(0.0 545.8) scale(0.93 1)" text-anchor="start">kHz</text>
<text class="lab" transform="translate(45.0 36.3) scale(1.03 1)" text-anchor="start">a</text>
<text class="lab" transform="translate(292.4 37.6) scale(1.03 1)" text-anchor="start">b</text>
<text class="lab" transform="translate(42.0 252.6) scale(1.03 1)" text-anchor="start">c</text>
<text class="lab" transform="translate(45.8 443.3) scale(1.03 1)" text-anchor="start">d</text>
<rect x="132.2" y="475.6" width="1" height="1.4" fill="#444"/>
<rect x="506.8" y="410.6" width="173.7" height="10.5" fill="#000" stroke="#2f5597" stroke-width="1.4"/>
<text class="db" transform="translate(593.6 447.7) scale(1.06 1)" text-anchor="middle">100ms</text>
<rect x="404.6" y="471.3" width="276.7" height="24.9" fill="url(#cb)" filter="url(#soft2)"/>
<line x1="404.6" y1="496.4" x2="681.3" y2="496.4" stroke="#666" stroke-width="0.7"/>
<line x1="678.8" y1="496.2" x2="678.8" y2="498.2" stroke="#333" stroke-width="0.8"/>
<line x1="651.2" y1="496.2" x2="651.2" y2="498.2" stroke="#333" stroke-width="0.8"/>
<line x1="623.6" y1="496.2" x2="623.6" y2="498.2" stroke="#333" stroke-width="0.8"/>
<line x1="595.9" y1="496.2" x2="595.9" y2="498.2" stroke="#333" stroke-width="0.8"/>
<line x1="568.3" y1="496.2" x2="568.3" y2="498.2" stroke="#333" stroke-width="0.8"/>
<line x1="540.7" y1="496.2" x2="540.7" y2="498.2" stroke="#333" stroke-width="0.8"/>
<line x1="513.1" y1="496.2" x2="513.1" y2="498.2" stroke="#333" stroke-width="0.8"/>
<line x1="485.5" y1="496.2" x2="485.5" y2="498.2" stroke="#333" stroke-width="0.8"/>
<line x1="457.8" y1="496.2" x2="457.8" y2="498.2" stroke="#333" stroke-width="0.8"/>
<line x1="430.2" y1="496.2" x2="430.2" y2="498.2" stroke="#333" stroke-width="0.8"/>
<text x="537.6" y="506" font-family="Liberation Sans, sans-serif" font-size="5" fill="#555">6</text>
<text x="591.6" y="503" font-family="Liberation Sans, sans-serif" font-size="5" fill="#555">7</text>
<text x="647.2" y="506" font-family="Liberation Sans, sans-serif" font-size="5" fill="#555">8</text>
<path d="M429.7 497.3 L439.7 513.4 L419.7 513.4 Z" fill="#000" stroke="#2f5597" stroke-width="1.4" stroke-linejoin="miter"/>
<path d="M485.8 497.4 L495.8 513.7 L475.8 513.7 Z" fill="#000" stroke="#2f5597" stroke-width="1.4" stroke-linejoin="miter"/>
<path d="M541.9 497.6 L551.9 514.0 L531.9 514.0 Z" fill="#000" stroke="#2f5597" stroke-width="1.4" stroke-linejoin="miter"/>
<path d="M597.8 497.8 L607.8 514.3 L587.8 514.3 Z" fill="#000" stroke="#2f5597" stroke-width="1.4" stroke-linejoin="miter"/>
<path d="M654.7 497.9 L664.7 514.6 L644.7 514.6 Z" fill="#000" stroke="#2f5597" stroke-width="1.4" stroke-linejoin="miter"/>
<text class="db" transform="translate(407.0 539.5) scale(1.06 1)" text-anchor="start">40dB</text>
<text class="db" transform="translate(463.6 539.5) scale(1.06 1)" text-anchor="start">50dB</text>
<text class="db" transform="translate(520.0 539.5) scale(1.06 1)" text-anchor="start">60dB</text>
<text class="db" transform="translate(575.6 539.5) scale(1.06 1)" text-anchor="start">70dB</text>
<text class="db" transform="translate(631.0 539.5) scale(1.06 1)" text-anchor="start">80dB</text>
</svg>
</body></html>
